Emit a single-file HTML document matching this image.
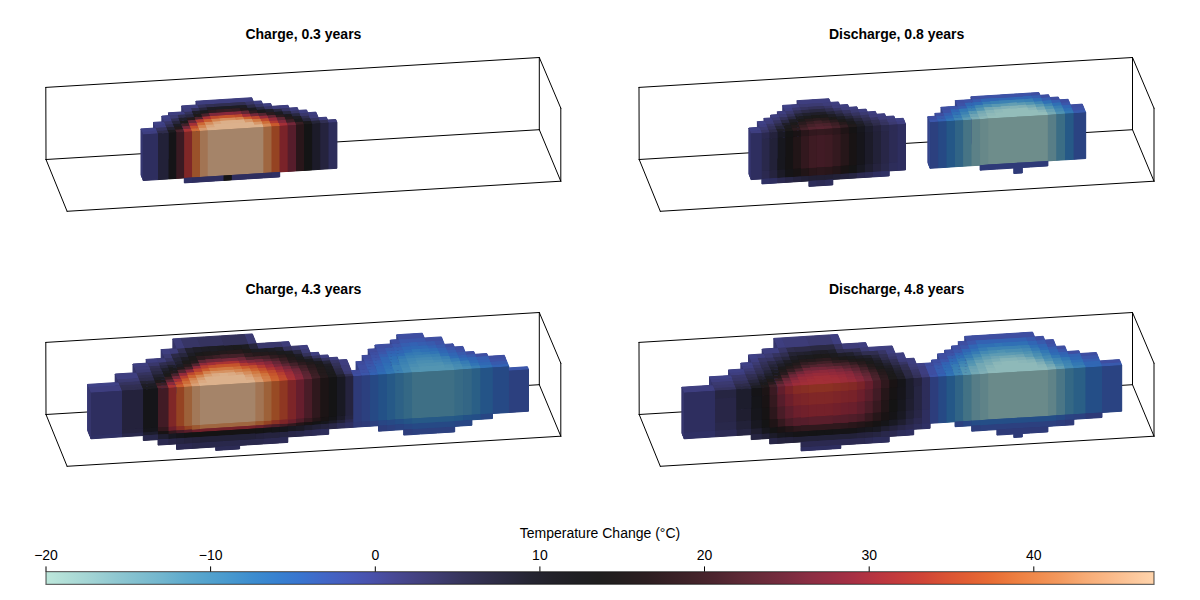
<!DOCTYPE html>
<html><head><meta charset="utf-8"><title>Temperature Change</title>
<style>html,body{margin:0;padding:0;background:#fff}svg{display:block}
.v path{fill:currentColor}.u{stroke:currentColor;stroke-width:1px;stroke-linejoin:round}
.t{font:14px "Liberation Sans",sans-serif;fill:#000}.h{font:bold 14px "Liberation Sans",sans-serif;fill:#000}</style></head>
<body><svg width="1200" height="600" viewBox="0 0 1200 600">
<rect width="1200" height="600" fill="#fff"/>
<path d="M45.8,87.4 L539.3,57.5M45.8,87.4 L46.0,159.5M46.0,159.5 L539.3,129.7M539.3,57.5 L539.3,129.7M46.0,159.5 L67.1,211.3M67.1,211.3 L560.8,181.2M539.3,129.7 L560.8,181.2M539.3,57.5 L560.8,108.2M560.8,108.2 L560.8,181.2" fill="none" stroke="#000" stroke-width="1" stroke-linecap="round"/>
<use href="#v0" xlink:href="#v0" class="u"/>
<g id="v0" class="v"><path color="#35356c" d="M143.3,134.5L142.2,131.7L142.2,177.7L143.3,180.5zM155.7,128.0L154.6,125.2L154.6,171.2L155.7,174.0zM164.2,121.7L163.0,118.9L163.0,164.9L164.2,167.7zM169.7,115.6L168.5,112.8L168.5,158.8L169.7,161.6zM183.0,109.0L181.8,105.9L181.8,151.9L183.0,155.0zM197.5,104.9L196.0,101.2L196.0,147.2L197.5,150.9z"/>
<path color="#363772" d="M142.2,131.7L141.0,128.9L141.0,174.9L142.2,177.7zM154.6,125.2L153.5,122.4L153.5,168.4L154.6,171.2zM163.0,118.9L161.9,116.1L161.9,162.1L163.0,164.9z"/>
<path color="#343366" d="M184.2,111.8L183.0,109.0L183.0,155.0L184.2,157.8z"/>
<path color="#3e3e7f" d="M143.3,134.5L158.0,133.6L156.9,130.8L142.2,131.7zM155.7,128.0L166.4,127.3L165.3,124.5L154.6,125.2zM164.2,121.7L171.9,121.2L170.8,118.4L163.0,118.9zM169.7,115.6L177.5,115.1L176.3,112.3L168.5,112.8zM177.5,115.1L185.3,114.6L184.2,111.8L176.3,112.3zM183.0,109.0L190.9,108.5L189.6,105.4L181.8,105.9zM190.9,108.5L198.8,108.0L197.5,104.9L189.6,105.4zM197.5,104.9L205.4,104.4L203.9,100.7L196.0,101.2zM205.4,104.4L213.3,103.9L211.8,100.2L203.9,100.7zM213.3,103.9L221.3,103.4L219.8,99.7L211.8,100.2zM221.3,103.4L229.2,102.9L227.7,99.2L219.8,99.7zM229.2,102.9L237.2,102.4L235.7,98.7L227.7,99.2zM237.2,102.4L245.2,101.9L243.7,98.2L235.7,98.7zM245.2,101.9L253.3,101.4L251.8,97.7L243.7,98.2zM254.5,104.5L262.6,104.0L261.3,100.9L253.3,101.4zM263.7,106.8L271.8,106.3L270.7,103.5L262.6,104.0zM281.0,108.6L289.2,108.1L288.0,105.3L279.9,105.8zM290.3,110.9L298.4,110.4L297.3,107.6L289.2,108.1zM299.6,113.2L307.7,112.7L306.6,109.9L298.4,110.4zM308.9,115.5L317.1,114.9L315.9,112.1L307.7,112.7zM319.3,120.5L327.6,120.0L326.4,117.2L318.2,117.7z"/>
<path color="#3f4186" d="M142.2,131.7L156.9,130.8L155.7,128.0L141.0,128.9zM154.6,125.2L165.3,124.5L164.2,121.7L153.5,122.4zM163.0,118.9L170.8,118.4L169.7,115.6L161.9,116.1z"/>
<path color="#2e2c4b" d="M158.0,133.6L168.7,132.9L167.6,130.1L156.9,130.8z"/>
<path color="#35335f" d="M156.9,130.8L167.6,130.1L166.4,127.3L155.7,128.0zM198.8,108.0L206.7,107.5L205.4,104.4L197.5,104.9zM311.2,121.1L319.3,120.5L318.2,117.7L310.0,118.3z"/>
<path color="#1c1b1f" d="M168.7,132.9L176.5,132.4L175.3,129.6L167.6,130.1zM284.4,117.0L292.6,116.5L291.4,113.7L283.3,114.2z"/>
<path color="#242333" d="M167.6,130.1L175.3,129.6L174.2,126.8L166.4,127.3z"/>
<path color="#302e50" d="M166.4,127.3L174.2,126.8L173.1,124.0L165.3,124.5zM178.6,117.9L186.4,117.4L185.3,114.6L177.5,115.1zM214.6,107.0L222.5,106.5L221.3,103.4L213.3,103.9zM222.5,106.5L230.5,106.0L229.2,102.9L221.3,103.4zM230.5,106.0L238.5,105.5L237.2,102.4L229.2,102.9zM238.5,105.5L246.5,105.0L245.2,101.9L237.2,102.4zM301.8,118.8L310.0,118.3L308.9,115.5L300.7,116.0z"/>
<path color="#373565" d="M165.3,124.5L173.1,124.0L171.9,121.2L164.2,121.7zM246.5,105.0L254.5,104.5L253.3,101.4L245.2,101.9zM255.7,107.3L263.7,106.8L262.6,104.0L254.5,104.5zM264.8,109.6L272.9,109.1L271.8,106.3L263.7,106.8zM282.2,111.4L290.3,110.9L289.2,108.1L281.0,108.6zM291.4,113.7L299.6,113.2L298.4,110.4L290.3,110.9z"/>
<path color="#4e232d" d="M176.5,132.4L184.3,131.9L183.2,129.1L175.3,129.6zM195.4,119.7L203.3,119.2L202.2,116.4L194.3,116.9z"/>
<path color="#231a1c" d="M175.3,129.6L183.2,129.1L182.0,126.3L174.2,126.8zM240.7,111.1L248.8,110.6L247.6,107.8L239.6,108.3z"/>
<path color="#1d1d24" d="M174.2,126.8L182.0,126.3L180.9,123.5L173.1,124.0zM215.7,109.8L223.7,109.3L222.5,106.5L214.6,107.0zM223.7,109.3L231.6,108.8L230.5,106.0L222.5,106.5zM231.6,108.8L239.6,108.3L238.5,105.5L230.5,106.0z"/>
<path color="#27263c" d="M173.1,124.0L180.9,123.5L179.7,120.7L171.9,121.2zM199.9,110.8L207.8,110.3L206.7,107.5L198.8,108.0zM303.0,121.6L311.2,121.1L310.0,118.3L301.8,118.8z"/>
<path color="#312f53" d="M171.9,121.2L179.7,120.7L178.6,117.9L170.8,118.4zM192.0,111.3L199.9,110.8L198.8,108.0L190.9,108.5zM206.7,107.5L214.6,107.0L213.3,103.9L205.4,104.4zM320.5,123.3L328.7,122.8L327.6,120.0L319.3,120.5z"/>
<path color="#3b3a71" d="M170.8,118.4L178.6,117.9L177.5,115.1L169.7,115.6z"/>
<path color="#ab3434" d="M184.3,131.9L192.1,131.4L191.0,128.6L183.2,129.1z"/>
<path color="#78283a" d="M183.2,129.1L191.0,128.6L189.8,125.8L182.0,126.3z"/>
<path color="#432129" d="M182.0,126.3L189.8,125.8L188.7,123.0L180.9,123.5z"/>
<path color="#1c1a1a" d="M180.9,123.5L188.7,123.0L187.6,120.2L179.7,120.7z"/>
<path color="#20202c" d="M179.7,120.7L187.6,120.2L186.4,117.4L178.6,117.9z"/>
<path color="#ce6d38" d="M192.1,131.4L200.0,130.9L198.8,128.1L191.0,128.6zM262.5,124.1L270.5,123.6L269.4,120.8L261.3,121.3z"/>
<path color="#c24e2d" d="M191.0,128.6L198.8,128.1L197.7,125.3L189.8,125.8z"/>
<path color="#a32f37" d="M189.8,125.8L197.7,125.3L196.6,122.5L188.7,123.0zM279.7,125.9L287.8,125.4L286.7,122.6L278.6,123.1z"/>
<path color="#662636" d="M188.7,123.0L196.6,122.5L195.4,119.7L187.6,120.2z"/>
<path color="#261a1c" d="M187.6,120.2L195.4,119.7L194.3,116.9L186.4,117.4zM285.6,119.8L293.7,119.3L292.6,116.5L284.4,117.0z"/>
<path color="#292841" d="M186.4,117.4L194.3,116.9L193.2,114.1L185.3,114.6zM256.8,110.1L264.8,109.6L263.7,106.8L255.7,107.3zM274.1,111.9L282.2,111.4L281.0,108.6L272.9,109.1zM283.3,114.2L291.4,113.7L290.3,110.9L282.2,111.4zM292.6,116.5L300.7,116.0L299.6,113.2L291.4,113.7z"/>
<path color="#333159" d="M185.3,114.6L193.2,114.1L192.0,111.3L184.2,111.8z"/>
<path color="#3d3c78" d="M184.2,111.8L192.0,111.3L190.9,108.5L183.0,109.0zM272.9,109.1L281.0,108.6L279.9,105.8L271.8,106.3zM310.0,118.3L318.2,117.7L317.1,114.9L308.9,115.5zM328.7,122.8L336.9,122.3L335.8,119.5L327.6,120.0z"/>
<path color="#d89c6f" d="M200.0,130.9L207.8,130.4L206.7,127.6L198.8,128.1z"/>
<path color="#d38450" d="M198.8,128.1L206.7,127.6L205.6,124.8L197.7,125.3z"/>
<path color="#cd6834" d="M197.7,125.3L205.6,124.8L204.4,122.0L196.6,122.5z"/>
<path color="#b33a31" d="M196.6,122.5L204.4,122.0L203.3,119.2L195.4,119.7zM270.5,123.6L278.6,123.1L277.5,120.3L269.4,120.8z"/>
<path color="#1e1a1a" d="M194.3,116.9L202.2,116.4L201.0,113.6L193.2,114.1z"/>
<path color="#1f1e28" d="M193.2,114.1L201.0,113.6L199.9,110.8L192.0,111.3zM266.0,112.4L274.1,111.9L272.9,109.1L264.8,109.6z"/>
<path color="#dcb18c" d="M207.8,130.4L215.7,129.9L214.6,127.1L206.7,127.6zM215.7,129.9L223.7,129.4L221.4,123.8L213.5,124.3zM223.7,129.4L231.6,128.9L229.3,123.3L221.4,123.8zM231.6,128.9L239.6,128.4L237.3,122.8L229.3,123.3zM239.6,128.4L247.5,127.9L245.3,122.3L237.3,122.8zM247.5,127.9L255.6,127.4L253.3,121.8L245.3,122.3zM255.6,127.4L263.6,126.9L262.5,124.1L254.4,124.6z"/>
<path color="#daa57c" d="M206.7,127.6L214.6,127.1L213.5,124.3L205.6,124.8zM213.5,124.3L221.4,123.8L220.3,121.0L212.3,121.5z"/>
<path color="#d58d5c" d="M205.6,124.8L213.5,124.3L212.3,121.5L204.4,122.0zM220.3,121.0L228.2,120.5L227.1,117.7L219.1,118.2zM228.2,120.5L236.2,120.0L235.0,117.2L227.1,117.7z"/>
<path color="#ca5e2e" d="M204.4,122.0L212.3,121.5L211.2,118.7L203.3,119.2zM244.1,119.5L252.2,119.0L251.0,116.2L243.0,116.7z"/>
<path color="#a73135" d="M203.3,119.2L211.2,118.7L210.1,115.9L202.2,116.4z"/>
<path color="#49222b" d="M202.2,116.4L210.1,115.9L208.9,113.1L201.0,113.6z"/>
<path color="#1b1b1d" d="M201.0,113.6L208.9,113.1L207.8,110.3L199.9,110.8z"/>
<path color="#d3814d" d="M212.3,121.5L220.3,121.0L219.1,118.2L211.2,118.7zM236.2,120.0L244.1,119.5L243.0,116.7L235.0,117.2z"/>
<path color="#bf4a2d" d="M211.2,118.7L219.1,118.2L218.0,115.4L210.1,115.9zM235.0,117.2L243.0,116.7L241.9,113.9L233.9,114.4zM261.3,121.3L269.4,120.8L268.3,118.0L260.2,118.5z"/>
<path color="#7d283b" d="M210.1,115.9L218.0,115.4L216.8,112.6L208.9,113.1z"/>
<path color="#2c1b1f" d="M208.9,113.1L216.8,112.6L215.7,109.8L207.8,110.3zM276.3,117.5L284.4,117.0L283.3,114.2L275.2,114.7z"/>
<path color="#1e1d25" d="M207.8,110.3L215.7,109.8L214.6,107.0L206.7,107.5zM239.6,108.3L247.6,107.8L246.5,105.0L238.5,105.5zM293.7,119.3L301.8,118.8L300.7,116.0L292.6,116.5z"/>
<path color="#dcaf89" d="M221.4,123.8L229.3,123.3L228.2,120.5L220.3,121.0zM229.3,123.3L237.3,122.8L236.2,120.0L228.2,120.5zM237.3,122.8L245.3,122.3L244.1,119.5L236.2,120.0z"/>
<path color="#c5532c" d="M219.1,118.2L227.1,117.7L225.9,114.9L218.0,115.4zM227.1,117.7L235.0,117.2L233.9,114.4L225.9,114.9z"/>
<path color="#83283b" d="M218.0,115.4L225.9,114.9L224.8,112.1L216.8,112.6zM233.9,114.4L241.9,113.9L240.7,111.1L232.8,111.6zM278.6,123.1L286.7,122.6L285.6,119.8L277.5,120.3z"/>
<path color="#331d22" d="M216.8,112.6L224.8,112.1L223.7,109.3L215.7,109.8zM232.8,111.6L240.7,111.1L239.6,108.3L231.6,108.8z"/>
<path color="#88283c" d="M225.9,114.9L233.9,114.4L232.8,111.6L224.8,112.1z"/>
<path color="#371e23" d="M224.8,112.1L232.8,111.6L231.6,108.8L223.7,109.3zM296.0,124.9L304.1,124.4L303.0,121.6L294.8,122.1z"/>
<path color="#d79769" d="M245.3,122.3L253.3,121.8L252.2,119.0L244.1,119.5zM254.4,124.6L262.5,124.1L261.3,121.3L253.3,121.8z"/>
<path color="#a12e38" d="M243.0,116.7L251.0,116.2L249.9,113.4L241.9,113.9z"/>
<path color="#612634" d="M241.9,113.9L249.9,113.4L248.8,110.6L240.7,111.1zM268.3,118.0L276.3,117.5L275.2,114.7L267.1,115.2zM277.5,120.3L285.6,119.8L284.4,117.0L276.3,117.5z"/>
<path color="#d17841" d="M253.3,121.8L261.3,121.3L260.2,118.5L252.2,119.0z"/>
<path color="#bd462e" d="M252.2,119.0L260.2,118.5L259.1,115.7L251.0,116.2z"/>
<path color="#732739" d="M251.0,116.2L259.1,115.7L257.9,112.9L249.9,113.4zM287.8,125.4L296.0,124.9L294.8,122.1L286.7,122.6z"/>
<path color="#2f1c20" d="M249.9,113.4L257.9,112.9L256.8,110.1L248.8,110.6z"/>
<path color="#1c1c21" d="M248.8,110.6L256.8,110.1L255.7,107.3L247.6,107.8zM275.2,114.7L283.3,114.2L282.2,111.4L274.1,111.9z"/>
<path color="#2c2a46" d="M247.6,107.8L255.7,107.3L254.5,104.5L246.5,105.0z"/>
<path color="#d48956" d="M263.6,126.9L271.7,126.4L270.5,123.6L262.5,124.1z"/>
<path color="#972b3a" d="M260.2,118.5L268.3,118.0L267.1,115.2L259.1,115.7zM269.4,120.8L277.5,120.3L276.3,117.5L268.3,118.0z"/>
<path color="#53242f" d="M259.1,115.7L267.1,115.2L266.0,112.4L257.9,112.9z"/>
<path color="#1b1a1c" d="M257.9,112.9L266.0,112.4L264.8,109.6L256.8,110.1zM294.8,122.1L303.0,121.6L301.8,118.8L293.7,119.3zM304.1,124.4L312.3,123.9L311.2,121.1L303.0,121.6z"/>
<path color="#c85a2d" d="M271.7,126.4L279.7,125.9L278.6,123.1L270.5,123.6z"/>
<path color="#291b1e" d="M267.1,115.2L275.2,114.7L274.1,111.9L266.0,112.4z"/>
<path color="#3f2027" d="M286.7,122.6L294.8,122.1L293.7,119.3L285.6,119.8z"/>
<path color="#39376b" d="M300.7,116.0L308.9,115.5L307.7,112.7L299.6,113.2z"/>
<path color="#252538" d="M312.3,123.9L320.5,123.3L319.3,120.5L311.2,121.1z"/>
<path color="#2e2e5f" d="M143.3,134.5L158.0,133.6L158.0,179.6L143.3,180.5z"/>
<path color="#222138" d="M158.0,133.6L168.7,132.9L168.7,178.9L158.0,179.6z"/>
<path color="#151417" d="M168.7,132.9L176.5,132.4L176.5,178.4L168.7,178.9z"/>
<path color="#3a1a22" d="M176.5,132.4L184.3,131.9L184.3,177.9L176.5,178.4z"/>
<path color="#802727" d="M184.3,131.9L192.1,131.4L192.1,177.4L184.3,177.9z"/>
<path color="#9a522a" d="M192.1,131.4L200.0,130.9L200.0,176.9L192.1,177.4z"/>
<path color="#a27453" d="M200.0,130.9L207.8,130.4L207.8,176.4L200.0,176.9z"/>
<path color="#a58469" d="M207.8,130.4L215.7,129.9L215.7,175.9L207.8,176.4zM215.7,129.9L223.7,129.4L223.7,175.4L215.7,175.9zM223.7,129.4L231.6,128.9L231.6,174.9L223.7,175.4zM231.6,128.9L239.6,128.4L239.6,174.4L231.6,174.9zM239.6,128.4L247.5,127.9L247.5,173.9L239.6,174.4zM247.5,127.9L255.6,127.4L255.6,173.4L247.5,173.9zM255.6,127.4L263.6,126.9L263.6,172.9L255.6,173.4z"/>
<path color="#9f6640" d="M263.6,126.9L271.7,126.4L271.7,172.4L263.6,172.9z"/>
<path color="#954322" d="M271.7,126.4L279.7,125.9L279.7,171.9L271.7,172.4z"/>
<path color="#7a2329" d="M279.7,125.9L287.8,125.4L287.8,171.4L279.7,171.9z"/>
<path color="#561d2b" d="M287.8,125.4L296.0,124.9L296.0,170.9L287.8,171.4z"/>
<path color="#29161a" d="M296.0,124.9L304.1,124.4L304.1,170.4L296.0,170.9z"/>
<path color="#141415" d="M304.1,124.4L312.3,123.9L312.3,169.9L304.1,170.4z"/>
<path color="#1c1b29" d="M312.3,123.9L320.5,123.3L320.5,169.3L312.3,169.9z"/>
<path color="#25233e" d="M320.5,123.3L328.7,122.8L328.7,168.8L320.5,169.3z"/>
<path color="#2d2d5a" d="M328.7,122.8L336.9,122.3L336.9,168.3L328.7,168.8z"/>
<path color="#2f3064" d="M184.3,177.9L192.1,177.4L192.1,182.4L184.3,182.9zM271.7,172.4L279.7,171.9L279.7,176.9L271.7,177.4z"/>
<path color="#2e2e5f" d="M192.1,177.4L200.0,176.9L200.0,181.9L192.1,182.4zM200.0,176.9L207.8,176.4L207.8,181.4L200.0,181.9zM207.8,176.4L215.7,175.9L215.7,180.9L207.8,181.4zM215.7,175.9L223.7,175.4L223.7,180.4L215.7,180.9zM231.6,174.9L239.6,174.4L239.6,179.4L231.6,179.9zM239.6,174.4L247.5,173.9L247.5,178.9L239.6,179.4zM247.5,173.9L255.6,173.4L255.6,178.4L247.5,178.9zM255.6,173.4L263.6,172.9L263.6,177.9L255.6,178.4zM263.6,172.9L271.7,172.4L271.7,177.4L263.6,177.9z"/>
<path color="#141415" d="M223.7,175.4L231.6,174.9L231.6,179.9L223.7,180.4z"/></g>
<text x="303.4" y="38.7" text-anchor="middle" class="h">Charge, 0.3 years</text>
<path d="M639.0,87.4 L1132.5,57.5M639.0,87.4 L639.2,159.5M639.2,159.5 L1132.5,129.7M1132.5,57.5 L1132.5,129.7M639.2,159.5 L660.3,211.3M660.3,211.3 L1154.0,181.2M1132.5,129.7 L1154.0,181.2M1132.5,57.5 L1154.0,108.2M1154.0,108.2 L1154.0,181.2" fill="none" stroke="#000" stroke-width="1" stroke-linecap="round"/>
<use href="#v1" xlink:href="#v1" class="u"/>
<g id="v1" class="v"><path color="#35356c" d="M751.2,133.6L750.1,130.8L750.1,176.8L751.2,179.6zM759.6,127.3L758.5,124.5L758.5,170.5L759.6,173.3zM765.1,121.2L764.0,118.4L764.0,164.4L765.1,167.2zM771.8,117.9L770.7,115.1L770.7,161.1L771.8,163.9zM778.5,114.6L777.4,111.8L777.4,157.8L778.5,160.6zM785.2,111.3L784.1,108.5L784.1,154.5L785.2,157.3zM798.6,104.4L797.1,100.7L797.1,146.7L798.6,150.4z"/>
<path color="#363772" d="M750.1,130.8L748.9,128.0L748.9,174.0L750.1,176.8zM758.5,124.5L757.4,121.7L757.4,167.7L758.5,170.5zM784.1,108.5L782.8,105.4L782.8,151.4L784.1,154.5z"/>
<path color="#324990" d="M930.1,122.3L929.0,119.5L929.0,165.5L930.1,168.3z"/>
<path color="#354389" d="M929.0,119.5L927.9,116.7L927.9,162.7L929.0,165.5zM936.1,116.2L935.0,113.4L935.0,159.4L936.1,162.2zM942.2,110.1L941.0,107.3L941.0,153.3L942.2,156.1zM956.5,103.4L955.4,100.6L955.4,146.6L956.5,149.4zM972.1,99.6L971.0,96.8L971.0,142.8L972.1,145.6z"/>
<path color="#34468d" d="M943.3,112.9L942.2,110.1L942.2,156.1L943.3,158.9zM957.7,106.2L956.5,103.4L956.5,149.4L957.7,152.2z"/>
<path color="#3e3e7f" d="M751.2,133.6L761.9,132.9L760.8,130.1L750.1,130.8zM759.6,127.3L767.4,126.8L766.3,124.0L758.5,124.5zM765.1,121.2L773.0,120.7L771.8,117.9L764.0,118.4zM771.8,117.9L779.6,117.4L778.5,114.6L770.7,115.1zM778.5,114.6L786.4,114.1L785.2,111.3L777.4,111.8zM785.2,111.3L793.1,110.8L792.0,108.0L784.1,108.5zM792.0,108.0L799.9,107.5L798.6,104.4L790.7,104.9zM798.6,104.4L806.5,103.9L805.0,100.2L797.1,100.7zM806.5,103.9L814.5,103.4L813.0,99.7L805.0,100.2zM814.5,103.4L822.4,102.9L820.9,99.2L813.0,99.7zM822.4,102.9L830.4,102.4L828.9,98.7L820.9,99.2zM831.7,105.5L839.7,105.0L838.4,101.9L830.4,102.4zM840.8,107.8L848.9,107.3L847.7,104.5L839.7,105.0zM850.0,110.1L858.0,109.6L856.9,106.8L848.9,107.3zM859.2,112.4L867.3,111.9L866.1,109.1L858.0,109.6zM868.4,114.7L876.5,114.2L875.4,111.4L867.3,111.9zM877.6,117.0L885.8,116.5L884.6,113.7L876.5,114.2zM886.9,119.3L895.0,118.8L893.9,116.0L885.8,116.5zM897.3,124.4L905.5,123.9L904.4,121.1L896.2,121.6z"/>
<path color="#3f4186" d="M750.1,130.8L760.8,130.1L759.6,127.3L748.9,128.0zM758.5,124.5L766.3,124.0L765.1,121.2L757.4,121.7zM784.1,108.5L792.0,108.0L790.7,104.9L782.8,105.4zM896.2,121.6L904.4,121.1L903.2,118.3L895.0,118.8z"/>
<path color="#373565" d="M761.9,132.9L769.7,132.4L768.5,129.6L760.8,130.1zM767.4,126.8L775.2,126.3L774.1,123.5L766.3,124.0zM824.8,108.8L832.8,108.3L831.7,105.5L823.7,106.0zM833.9,111.1L842.0,110.6L840.8,107.8L832.8,108.3zM870.7,120.3L878.8,119.8L877.6,117.0L869.5,117.5zM879.9,122.6L888.0,122.1L886.9,119.3L878.8,119.8z"/>
<path color="#3b3a71" d="M760.8,130.1L768.5,129.6L767.4,126.8L759.6,127.3zM773.0,120.7L780.8,120.2L779.6,117.4L771.8,117.9zM779.6,117.4L787.5,116.9L786.4,114.1L778.5,114.6zM799.9,107.5L807.8,107.0L806.5,103.9L798.6,104.4zM807.8,107.0L815.7,106.5L814.5,103.4L806.5,103.9zM815.7,106.5L823.7,106.0L822.4,102.9L814.5,103.4zM851.1,112.9L859.2,112.4L858.0,109.6L850.0,110.1zM860.3,115.2L868.4,114.7L867.3,111.9L859.2,112.4zM889.2,124.9L897.3,124.4L896.2,121.6L888.0,122.1z"/>
<path color="#2e2c4b" d="M769.7,132.4L777.5,131.9L776.4,129.1L768.5,129.6zM775.2,126.3L783.0,125.8L781.9,123.0L774.1,123.5zM835.1,113.9L843.1,113.4L842.0,110.6L833.9,111.1zM844.2,116.2L852.3,115.7L851.1,112.9L843.1,113.4zM853.4,118.5L861.5,118.0L860.3,115.2L852.3,115.7zM872.9,125.9L881.0,125.4L879.9,122.6L871.8,123.1z"/>
<path color="#333159" d="M768.5,129.6L776.4,129.1L775.2,126.3L767.4,126.8zM780.8,120.2L788.6,119.7L787.5,116.9L779.6,117.4zM787.5,116.9L795.4,116.4L794.2,113.6L786.4,114.1zM808.9,109.8L816.9,109.3L815.7,106.5L807.8,107.0zM816.9,109.3L824.8,108.8L823.7,106.0L815.7,106.5z"/>
<path color="#3d3c78" d="M766.3,124.0L774.1,123.5L773.0,120.7L765.1,121.2zM823.7,106.0L831.7,105.5L830.4,102.4L822.4,102.9zM832.8,108.3L840.8,107.8L839.7,105.0L831.7,105.5zM842.0,110.6L850.0,110.1L848.9,107.3L840.8,107.8zM869.5,117.5L877.6,117.0L876.5,114.2L868.4,114.7zM878.8,119.8L886.9,119.3L885.8,116.5L877.6,117.0zM888.0,122.1L896.2,121.6L895.0,118.8L886.9,119.3z"/>
<path color="#1f1e28" d="M777.5,131.9L785.3,131.4L784.2,128.6L776.4,129.1zM783.0,125.8L790.9,125.3L789.8,122.5L781.9,123.0zM811.2,115.4L819.1,114.9L818.0,112.1L810.0,112.6zM819.1,114.9L827.1,114.4L826.0,111.6L818.0,112.1z"/>
<path color="#252538" d="M776.4,129.1L784.2,128.6L783.0,125.8L775.2,126.3zM795.4,116.4L803.3,115.9L802.1,113.1L794.2,113.6zM827.1,114.4L835.1,113.9L833.9,111.1L826.0,111.6zM836.2,116.7L844.2,116.2L843.1,113.4L835.1,113.9zM845.4,119.0L853.4,118.5L852.3,115.7L844.2,116.2zM864.9,126.4L872.9,125.9L871.8,123.1L863.7,123.6z"/>
<path color="#35335f" d="M774.1,123.5L781.9,123.0L780.8,120.2L773.0,120.7zM801.0,110.3L808.9,109.8L807.8,107.0L799.9,107.5zM843.1,113.4L851.1,112.9L850.0,110.1L842.0,110.6zM852.3,115.7L860.3,115.2L859.2,112.4L851.1,112.9zM861.5,118.0L869.5,117.5L868.4,114.7L860.3,115.2zM881.0,125.4L889.2,124.9L888.0,122.1L879.9,122.6z"/>
<path color="#1c1a1a" d="M785.3,131.4L793.2,130.9L792.0,128.1L784.2,128.6zM790.9,125.3L798.8,124.8L797.6,122.0L789.8,122.5zM797.6,122.0L805.5,121.5L804.4,118.7L796.5,119.2zM829.4,120.0L837.3,119.5L836.2,116.7L828.2,117.2zM838.5,122.3L846.5,121.8L845.4,119.0L837.3,119.5z"/>
<path color="#1c1b1f" d="M784.2,128.6L792.0,128.1L790.9,125.3L783.0,125.8z"/>
<path color="#292841" d="M781.9,123.0L789.8,122.5L788.6,119.7L780.8,120.2zM788.6,119.7L796.5,119.2L795.4,116.4L787.5,116.9zM810.0,112.6L818.0,112.1L816.9,109.3L808.9,109.8zM818.0,112.1L826.0,111.6L824.8,108.8L816.9,109.3zM863.7,123.6L871.8,123.1L870.7,120.3L862.6,120.8z"/>
<path color="#2c1b1f" d="M793.2,130.9L801.0,130.4L799.9,127.6L792.0,128.1z"/>
<path color="#231a1c" d="M792.0,128.1L799.9,127.6L798.8,124.8L790.9,125.3z"/>
<path color="#1e1d25" d="M789.8,122.5L797.6,122.0L796.5,119.2L788.6,119.7zM828.2,117.2L836.2,116.7L835.1,113.9L827.1,114.4zM846.5,121.8L854.5,121.3L853.4,118.5L845.4,119.0z"/>
<path color="#39376b" d="M786.4,114.1L794.2,113.6L793.1,110.8L785.2,111.3zM793.1,110.8L801.0,110.3L799.9,107.5L792.0,108.0z"/>
<path color="#432129" d="M801.0,130.4L808.9,129.9L807.8,127.1L799.9,127.6z"/>
<path color="#371e23" d="M799.9,127.6L807.8,127.1L806.7,124.3L798.8,124.8zM806.7,124.3L814.6,123.8L813.5,121.0L805.5,121.5zM822.5,123.3L830.5,122.8L829.4,120.0L821.4,120.5z"/>
<path color="#291b1e" d="M798.8,124.8L806.7,124.3L805.5,121.5L797.6,122.0zM813.5,121.0L821.4,120.5L820.3,117.7L812.3,118.2zM830.5,122.8L838.5,122.3L837.3,119.5L829.4,120.0z"/>
<path color="#1d1d24" d="M796.5,119.2L804.4,118.7L803.3,115.9L795.4,116.4zM837.3,119.5L845.4,119.0L844.2,116.2L836.2,116.7zM856.8,126.9L864.9,126.4L863.7,123.6L855.7,124.1z"/>
<path color="#312f53" d="M794.2,113.6L802.1,113.1L801.0,110.3L793.1,110.8zM871.8,123.1L879.9,122.6L878.8,119.8L870.7,120.3z"/>
<path color="#53242f" d="M808.9,129.9L816.9,129.4L815.7,126.6L807.8,127.1zM824.8,128.9L832.8,128.4L831.6,125.6L823.7,126.1z"/>
<path color="#452129" d="M807.8,127.1L815.7,126.6L814.6,123.8L806.7,124.3zM832.8,128.4L840.8,127.9L839.6,125.1L831.6,125.6z"/>
<path color="#261a1c" d="M805.5,121.5L813.5,121.0L812.3,118.2L804.4,118.7zM821.4,120.5L829.4,120.0L828.2,117.2L820.3,117.7zM839.6,125.1L847.6,124.6L846.5,121.8L838.5,122.3z"/>
<path color="#1b1b1d" d="M804.4,118.7L812.3,118.2L811.2,115.4L803.3,115.9z"/>
<path color="#20202c" d="M803.3,115.9L811.2,115.4L810.0,112.6L802.1,113.1zM855.7,124.1L863.7,123.6L862.6,120.8L854.5,121.3z"/>
<path color="#2c2a46" d="M802.1,113.1L810.0,112.6L808.9,109.8L801.0,110.3z"/>
<path color="#572431" d="M816.9,129.4L824.8,128.9L823.7,126.1L815.7,126.6z"/>
<path color="#4e232d" d="M815.7,126.6L823.7,126.1L822.5,123.3L814.6,123.8z"/>
<path color="#3f2027" d="M814.6,123.8L822.5,123.3L821.4,120.5L813.5,121.0z"/>
<path color="#1b1a1a" d="M812.3,118.2L820.3,117.7L819.1,114.9L811.2,115.4z"/>
<path color="#49222b" d="M823.7,126.1L831.6,125.6L830.5,122.8L822.5,123.3z"/>
<path color="#1b1a1c" d="M820.3,117.7L828.2,117.2L827.1,114.4L819.1,114.9zM847.6,124.6L855.7,124.1L854.5,121.3L846.5,121.8z"/>
<path color="#3b1f25" d="M831.6,125.6L839.6,125.1L838.5,122.3L830.5,122.8z"/>
<path color="#302e50" d="M826.0,111.6L833.9,111.1L832.8,108.3L824.8,108.8zM862.6,120.8L870.7,120.3L869.5,117.5L861.5,118.0z"/>
<path color="#331d22" d="M840.8,127.9L848.8,127.4L847.6,124.6L839.6,125.1z"/>
<path color="#201a1b" d="M848.8,127.4L856.8,126.9L855.7,124.1L847.6,124.6z"/>
<path color="#27263c" d="M854.5,121.3L862.6,120.8L861.5,118.0L853.4,118.5z"/>
<path color="#3b56aa" d="M930.1,122.3L938.4,121.8L937.3,119.0L929.0,119.5zM950.5,109.5L958.8,109.0L957.7,106.2L949.3,106.7zM1061.7,105.4L1070.4,104.9L1069.2,102.1L1060.6,102.6z"/>
<path color="#3e4ea1" d="M929.0,119.5L937.3,119.0L936.1,116.2L927.9,116.7zM936.1,116.2L944.4,115.7L943.3,112.9L935.0,113.4zM942.2,110.1L950.5,109.5L949.3,106.7L941.0,107.3zM956.5,103.4L964.9,102.9L963.8,100.1L955.4,100.6zM972.1,99.6L980.5,99.0L979.4,96.2L971.0,96.8zM1031.4,95.8L1040.0,95.3L1038.9,92.5L1030.3,93.0zM1041.1,98.1L1049.7,97.5L1048.6,94.7L1040.0,95.3zM1050.9,100.3L1059.5,99.8L1058.3,97.0L1049.7,97.5zM1060.6,102.6L1069.2,102.1L1068.1,99.3L1059.5,99.8zM1071.5,107.7L1083.4,106.9L1082.3,104.1L1070.4,104.9z"/>
<path color="#3362b3" d="M938.4,121.8L946.7,121.3L945.6,118.5L937.3,119.0z"/>
<path color="#385aad" d="M937.3,119.0L945.6,118.5L944.4,115.7L936.1,116.2zM973.3,102.4L981.7,101.8L980.5,99.0L972.1,99.6zM1073.8,113.3L1085.7,112.5L1084.6,109.7L1072.6,110.5z"/>
<path color="#3174b5" d="M946.7,121.3L955.0,120.7L953.9,117.9L945.6,118.5zM967.2,108.5L975.5,108.0L974.4,105.2L966.0,105.7z"/>
<path color="#3068b4" d="M945.6,118.5L953.9,117.9L952.7,115.1L944.4,115.7zM998.5,100.8L1007.0,100.2L1005.9,97.4L997.4,98.0zM1007.0,100.2L1015.5,99.7L1014.4,96.9L1005.9,97.4zM1015.5,99.7L1024.0,99.2L1022.9,96.4L1014.4,96.9z"/>
<path color="#365eb0" d="M944.4,115.7L952.7,115.1L951.6,112.3L943.3,112.9zM958.8,109.0L967.2,108.5L966.0,105.7L957.7,106.2zM1032.6,98.6L1041.1,98.1L1040.0,95.3L1031.4,95.8zM1042.3,100.9L1050.9,100.3L1049.7,97.5L1041.1,98.1zM1052.0,103.1L1060.6,102.6L1059.5,99.8L1050.9,100.3z"/>
<path color="#3d52a6" d="M943.3,112.9L951.6,112.3L950.5,109.5L942.2,110.1zM957.7,106.2L966.0,105.7L964.9,102.9L956.5,103.4zM964.9,102.9L973.3,102.4L972.1,99.6L963.8,100.1zM980.5,99.0L989.0,98.5L987.8,95.7L979.4,96.2zM989.0,98.5L997.4,98.0L996.3,95.2L987.8,95.7zM997.4,98.0L1005.9,97.4L1004.7,94.6L996.3,95.2zM1005.9,97.4L1014.4,96.9L1013.2,94.1L1004.7,94.6zM1014.4,96.9L1022.9,96.4L1021.8,93.6L1013.2,94.1zM1022.9,96.4L1031.4,95.8L1030.3,93.0L1021.8,93.6zM1072.6,110.5L1084.6,109.7L1083.4,106.9L1071.5,107.7z"/>
<path color="#4086b3" d="M955.0,120.7L963.3,120.2L962.2,117.4L953.9,117.9zM975.5,108.0L983.9,107.4L982.8,104.6L974.4,105.2zM1034.8,104.2L1043.4,103.7L1042.3,100.9L1033.7,101.4zM1044.5,106.5L1053.1,105.9L1052.0,103.1L1043.4,103.7z"/>
<path color="#367bb4" d="M953.9,117.9L962.2,117.4L961.1,114.6L952.7,115.1zM982.8,104.6L991.2,104.1L990.1,101.3L981.7,101.8z"/>
<path color="#3070b5" d="M952.7,115.1L961.1,114.6L959.9,111.8L951.6,112.3zM1033.7,101.4L1042.3,100.9L1041.1,98.1L1032.6,98.6zM1043.4,103.7L1052.0,103.1L1050.9,100.3L1042.3,100.9zM1053.1,105.9L1061.7,105.4L1060.6,102.6L1052.0,103.1zM1064.0,111.0L1072.6,110.5L1071.5,107.7L1062.9,108.2z"/>
<path color="#3166b4" d="M951.6,112.3L959.9,111.8L958.8,109.0L950.5,109.5zM966.0,105.7L974.4,105.2L973.3,102.4L964.9,102.9zM981.7,101.8L990.1,101.3L989.0,98.5L980.5,99.0zM990.1,101.3L998.5,100.8L997.4,98.0L989.0,98.5zM1024.0,99.2L1032.6,98.6L1031.4,95.8L1022.9,96.4zM1062.9,108.2L1071.5,107.7L1070.4,104.9L1061.7,105.4z"/>
<path color="#5d9bb3" d="M963.3,120.2L971.7,119.7L970.6,116.9L962.2,117.4zM1000.8,106.4L1009.3,105.8L1008.2,103.0L999.7,103.6zM1017.8,105.3L1026.3,104.8L1025.2,102.0L1016.6,102.5z"/>
<path color="#4a8eb2" d="M962.2,117.4L970.6,116.9L969.4,114.1L961.1,114.6zM983.9,107.4L992.4,106.9L991.2,104.1L982.8,104.6z"/>
<path color="#3c82b3" d="M961.1,114.6L969.4,114.1L968.3,111.3L959.9,111.8zM968.3,111.3L976.7,110.8L975.5,108.0L967.2,108.5zM999.7,103.6L1008.2,103.0L1007.0,100.2L998.5,100.8zM1008.2,103.0L1016.6,102.5L1015.5,99.7L1007.0,100.2zM1016.6,102.5L1025.2,102.0L1024.0,99.2L1015.5,99.7z"/>
<path color="#3378b4" d="M959.9,111.8L968.3,111.3L967.2,108.5L958.8,109.0zM1065.1,113.8L1073.8,113.3L1072.6,110.5L1064.0,111.0z"/>
<path color="#7aacb5" d="M971.7,119.7L980.1,119.2L978.9,116.4L970.6,116.9zM993.5,109.7L1001.9,109.2L1000.8,106.4L992.4,106.9z"/>
<path color="#6ea4b4" d="M970.6,116.9L978.9,116.4L977.8,113.6L969.4,114.1z"/>
<path color="#5898b2" d="M969.4,114.1L977.8,113.6L976.7,110.8L968.3,111.3zM992.4,106.9L1000.8,106.4L999.7,103.6L991.2,104.1zM1036.0,107.0L1044.5,106.5L1043.4,103.7L1034.8,104.2z"/>
<path color="#8ab6b8" d="M980.1,119.2L988.5,118.6L987.3,115.8L978.9,116.4zM1028.6,110.4L1037.1,109.8L1036.0,107.0L1027.4,107.6zM1038.2,112.6L1046.8,112.1L1045.7,109.3L1037.1,109.8z"/>
<path color="#80afb6" d="M978.9,116.4L987.3,115.8L986.2,113.0L977.8,113.6zM1001.9,109.2L1010.4,108.6L1009.3,105.8L1000.8,106.4zM1018.9,108.1L1027.4,107.6L1026.3,104.8L1017.8,105.3z"/>
<path color="#75a9b4" d="M977.8,113.6L986.2,113.0L985.1,110.2L976.7,110.8zM1027.4,107.6L1036.0,107.0L1034.8,104.2L1026.3,104.8zM1037.1,109.8L1045.7,109.3L1044.5,106.5L1036.0,107.0zM1047.9,114.9L1056.5,114.3L1055.4,111.5L1046.8,112.1z"/>
<path color="#5395b2" d="M976.7,110.8L985.1,110.2L983.9,107.4L975.5,108.0zM1026.3,104.8L1034.8,104.2L1033.7,101.4L1025.2,102.0zM1045.7,109.3L1054.3,108.7L1053.1,105.9L1044.5,106.5z"/>
<path color="#2f6cb5" d="M974.4,105.2L982.8,104.6L981.7,101.8L973.3,102.4z"/>
<path color="#93bdba" d="M988.5,118.6L996.9,118.1L995.8,115.3L987.3,115.8zM996.9,118.1L1005.4,117.6L1003.1,112.0L994.6,112.5zM1005.4,117.6L1013.8,117.0L1010.4,108.6L1001.9,109.2zM1013.8,117.0L1022.3,116.5L1018.9,108.1L1010.4,108.6zM1022.3,116.5L1030.8,116.0L1027.4,107.6L1018.9,108.1zM1030.8,116.0L1039.4,115.4L1037.1,109.8L1028.6,110.4zM1039.4,115.4L1047.9,114.9L1046.8,112.1L1038.2,112.6z"/>
<path color="#8eb9b9" d="M987.3,115.8L995.8,115.3L994.6,112.5L986.2,113.0zM994.6,112.5L1003.1,112.0L1001.9,109.2L993.5,109.7z"/>
<path color="#85b3b7" d="M986.2,113.0L994.6,112.5L993.5,109.7L985.1,110.2zM1010.4,108.6L1018.9,108.1L1017.8,105.3L1009.3,105.8z"/>
<path color="#73a8b4" d="M985.1,110.2L993.5,109.7L992.4,106.9L983.9,107.4z"/>
<path color="#397fb3" d="M991.2,104.1L999.7,103.6L998.5,100.8L990.1,101.3zM1025.2,102.0L1033.7,101.4L1032.6,98.6L1024.0,99.2zM1054.3,108.7L1062.9,108.2L1061.7,105.4L1053.1,105.9z"/>
<path color="#639eb3" d="M1009.3,105.8L1017.8,105.3L1016.6,102.5L1008.2,103.0z"/>
<path color="#68a1b3" d="M1046.8,112.1L1055.4,111.5L1054.3,108.7L1045.7,109.3z"/>
<path color="#4f92b2" d="M1056.5,114.3L1065.1,113.8L1064.0,111.0L1055.4,111.5z"/>
<path color="#4489b3" d="M1055.4,111.5L1064.0,111.0L1062.9,108.2L1054.3,108.7z"/>
<path color="#2e2e5f" d="M751.2,133.6L761.9,132.9L761.9,138.9L751.2,139.6zM751.2,139.6L761.9,138.9L761.9,170.9L751.2,171.6zM751.2,171.6L761.9,170.9L761.9,178.9L751.2,179.6zM897.3,124.4L905.5,123.9L905.5,129.9L897.3,130.4zM897.3,130.4L905.5,129.9L905.5,161.9L897.3,162.4zM897.3,162.4L905.5,161.9L905.5,169.9L897.3,170.4z"/>
<path color="#2b2950" d="M761.9,132.9L769.7,132.4L769.7,138.4L761.9,138.9zM761.9,170.9L769.7,170.4L769.7,178.4L761.9,178.9z"/>
<path color="#29284b" d="M761.9,138.9L769.7,138.4L769.7,170.4L761.9,170.9zM881.0,125.4L889.2,124.9L889.2,130.9L881.0,131.4zM881.0,163.4L889.2,162.9L889.2,170.9L881.0,171.4z"/>
<path color="#24223c" d="M769.7,132.4L777.5,131.9L777.5,137.9L769.7,138.4zM872.9,125.9L881.0,125.4L881.0,131.4L872.9,131.9z"/>
<path color="#222138" d="M769.7,138.4L777.5,137.9L777.5,169.9L769.7,170.4zM872.9,131.9L881.0,131.4L881.0,163.4L872.9,163.9z"/>
<path color="#25233e" d="M769.7,170.4L777.5,169.9L777.5,177.9L769.7,178.4zM872.9,163.9L881.0,163.4L881.0,171.4L872.9,171.9z"/>
<path color="#191923" d="M777.5,131.9L785.3,131.4L785.3,137.4L777.5,137.9z"/>
<path color="#17171e" d="M777.5,137.9L785.3,137.4L785.3,169.4L777.5,169.9zM856.8,126.9L864.9,126.4L864.9,132.4L856.8,132.9z"/>
<path color="#1b1a26" d="M777.5,169.9L785.3,169.4L785.3,177.4L777.5,177.9z"/>
<path color="#141415" d="M785.3,131.4L793.2,130.9L793.2,136.9L785.3,137.4zM848.8,165.4L856.8,164.9L856.8,172.9L848.8,173.4z"/>
<path color="#151314" d="M785.3,137.4L793.2,136.9L793.2,168.9L785.3,169.4zM848.8,127.4L856.8,126.9L856.8,132.9L848.8,133.4z"/>
<path color="#151417" d="M785.3,169.4L793.2,168.9L793.2,176.9L785.3,177.4z"/>
<path color="#1a1315" d="M793.2,130.9L801.0,130.4L801.0,136.4L793.2,136.9z"/>
<path color="#211517" d="M793.2,136.9L801.0,136.4L801.0,168.4L793.2,168.9zM801.0,168.4L808.9,167.9L808.9,175.9L801.0,176.4z"/>
<path color="#181314" d="M793.2,168.9L801.0,168.4L801.0,176.4L793.2,176.9zM848.8,133.4L856.8,132.9L856.8,164.9L848.8,165.4z"/>
<path color="#29161a" d="M801.0,130.4L808.9,129.9L808.9,135.9L801.0,136.4zM808.9,167.9L816.9,167.4L816.9,175.4L808.9,175.9zM824.8,166.9L832.8,166.4L832.8,174.4L824.8,174.9z"/>
<path color="#32181e" d="M801.0,136.4L808.9,135.9L808.9,167.9L801.0,168.4zM808.9,129.9L816.9,129.4L816.9,135.4L808.9,135.9zM824.8,128.9L832.8,128.4L832.8,134.4L824.8,134.9z"/>
<path color="#3e1b23" d="M808.9,135.9L816.9,135.4L816.9,167.4L808.9,167.9zM824.8,134.9L832.8,134.4L832.8,166.4L824.8,166.9z"/>
<path color="#34191f" d="M816.9,129.4L824.8,128.9L824.8,134.9L816.9,135.4zM832.8,134.4L840.8,133.9L840.8,165.9L832.8,166.4z"/>
<path color="#411b25" d="M816.9,135.4L824.8,134.9L824.8,166.9L816.9,167.4z"/>
<path color="#2c171c" d="M816.9,167.4L824.8,166.9L824.8,174.9L816.9,175.4zM832.8,128.4L840.8,127.9L840.8,133.9L832.8,134.4z"/>
<path color="#231518" d="M832.8,166.4L840.8,165.9L840.8,173.9L832.8,174.4z"/>
<path color="#1f1416" d="M840.8,127.9L848.8,127.4L848.8,133.4L840.8,133.9z"/>
<path color="#261619" d="M840.8,133.9L848.8,133.4L848.8,165.4L840.8,165.9z"/>
<path color="#191314" d="M840.8,165.9L848.8,165.4L848.8,173.4L840.8,173.9z"/>
<path color="#16151b" d="M856.8,132.9L864.9,132.4L864.9,164.4L856.8,164.9z"/>
<path color="#181821" d="M856.8,164.9L864.9,164.4L864.9,172.4L856.8,172.9z"/>
<path color="#1d1d2d" d="M864.9,126.4L872.9,125.9L872.9,131.9L864.9,132.4z"/>
<path color="#1c1b29" d="M864.9,132.4L872.9,131.9L872.9,163.9L864.9,164.4z"/>
<path color="#1f1e30" d="M864.9,164.4L872.9,163.9L872.9,171.9L864.9,172.4z"/>
<path color="#282647" d="M881.0,131.4L889.2,130.9L889.2,162.9L881.0,163.4z"/>
<path color="#2c2b55" d="M889.2,124.9L897.3,124.4L897.3,130.4L889.2,130.9zM889.2,130.9L897.3,130.4L897.3,162.4L889.2,162.9z"/>
<path color="#2d2d5a" d="M889.2,162.9L897.3,162.4L897.3,170.4L889.2,170.9z"/>
<path color="#2c407f" d="M930.1,122.3L938.4,121.8L938.4,167.8L930.1,168.3z"/>
<path color="#264985" d="M938.4,121.8L946.7,121.3L946.7,167.3L938.4,167.8z"/>
<path color="#245787" d="M946.7,121.3L955.0,120.7L955.0,166.7L946.7,167.3z"/>
<path color="#306486" d="M955.0,120.7L963.3,120.2L963.3,166.2L955.0,166.7z"/>
<path color="#467485" d="M963.3,120.2L971.7,119.7L971.7,165.7L963.3,166.2z"/>
<path color="#5c8187" d="M971.7,119.7L980.1,119.2L980.1,165.2L971.7,165.7z"/>
<path color="#678889" d="M980.1,119.2L988.5,118.6L988.5,164.6L980.1,165.2z"/>
<path color="#6e8d8b" d="M988.5,118.6L996.9,118.1L996.9,164.1L988.5,164.6zM996.9,118.1L1005.4,117.6L1005.4,163.6L996.9,164.1zM1005.4,117.6L1013.8,117.0L1013.8,163.0L1005.4,163.6zM1013.8,117.0L1022.3,116.5L1022.3,162.5L1013.8,163.0zM1022.3,116.5L1030.8,116.0L1030.8,162.0L1022.3,162.5zM1030.8,116.0L1039.4,115.4L1039.4,161.4L1030.8,162.0zM1039.4,115.4L1047.9,114.9L1047.9,160.9L1039.4,161.4z"/>
<path color="#587e87" d="M1047.9,114.9L1056.5,114.3L1056.5,160.3L1047.9,160.9z"/>
<path color="#3b6d85" d="M1056.5,114.3L1065.1,113.8L1065.1,159.8L1056.5,160.3z"/>
<path color="#265987" d="M1065.1,113.8L1073.8,113.3L1073.8,159.3L1065.1,159.8z"/>
<path color="#2a4382" d="M1073.8,113.3L1085.7,112.5L1085.7,158.5L1073.8,159.3z"/>
<path color="#2f3064" d="M761.9,178.9L769.7,178.4L769.7,183.4L761.9,183.9zM881.0,171.4L889.2,170.9L889.2,175.9L881.0,176.4z"/>
<path color="#2e2e5f" d="M769.7,178.4L777.5,177.9L777.5,182.9L769.7,183.4zM872.9,171.9L881.0,171.4L881.0,176.4L872.9,176.9z"/>
<path color="#2b2950" d="M777.5,177.9L785.3,177.4L785.3,182.4L777.5,182.9zM856.8,172.9L864.9,172.4L864.9,177.4L856.8,177.9z"/>
<path color="#282647" d="M785.3,177.4L793.2,176.9L793.2,181.9L785.3,182.4z"/>
<path color="#25233e" d="M793.2,176.9L801.0,176.4L801.0,181.4L793.2,181.9z"/>
<path color="#222138" d="M801.0,176.4L808.9,175.9L808.9,180.9L801.0,181.4zM832.8,174.4L840.8,173.9L840.8,178.9L832.8,179.4z"/>
<path color="#211f34" d="M808.9,175.9L816.9,175.4L816.9,180.4L808.9,180.9zM816.9,175.4L824.8,174.9L824.8,179.9L816.9,180.4zM824.8,174.9L832.8,174.4L832.8,179.4L824.8,179.9z"/>
<path color="#2d2d5a" d="M808.9,180.9L816.9,180.4L816.9,185.9L808.9,186.4zM824.8,179.9L832.8,179.4L832.8,184.9L824.8,185.4z"/>
<path color="#2c2b55" d="M816.9,180.4L824.8,179.9L824.8,185.4L816.9,185.9zM864.9,172.4L872.9,171.9L872.9,176.9L864.9,177.4z"/>
<path color="#24223c" d="M840.8,173.9L848.8,173.4L848.8,178.4L840.8,178.9z"/>
<path color="#262542" d="M848.8,173.4L856.8,172.9L856.8,177.9L848.8,178.4z"/>
<path color="#2e3a78" d="M980.1,165.2L988.5,164.6L988.5,169.6L980.1,170.2zM988.5,164.6L996.9,164.1L996.9,169.1L988.5,169.6zM996.9,164.1L1005.4,163.6L1005.4,168.6L996.9,169.1zM1005.4,163.6L1013.8,163.0L1013.8,168.0L1005.4,168.6zM1013.8,163.0L1022.3,162.5L1022.3,167.5L1013.8,168.0zM1013.8,168.0L1022.3,167.5L1022.3,173.0L1013.8,173.5zM1022.3,162.5L1030.8,162.0L1030.8,167.0L1022.3,167.5zM1030.8,162.0L1039.4,161.4L1039.4,166.4L1030.8,167.0zM1039.4,161.4L1047.9,160.9L1047.9,165.9L1039.4,166.4z"/></g>
<text x="896.6" y="38.7" text-anchor="middle" class="h">Discharge, 0.8 years</text>
<path d="M45.8,342.4 L539.3,312.5M45.8,342.4 L46.0,414.5M46.0,414.5 L539.3,384.7M539.3,312.5 L539.3,384.7M46.0,414.5 L67.1,466.3M67.1,466.3 L560.8,436.2M539.3,384.7 L560.8,436.2M539.3,312.5 L560.8,363.2M560.8,363.2 L560.8,436.2" fill="none" stroke="#000" stroke-width="1" stroke-linecap="round"/>
<use href="#v2" xlink:href="#v2" class="u"/>
<g id="v2" class="v"><path color="#35356c" d="M91.0,392.8L89.9,390.0L89.9,436.0L91.0,438.8zM89.9,390.0L88.7,387.2L88.7,433.2L89.9,436.0zM117.5,379.6L116.3,376.8L116.3,422.8L117.5,425.6zM116.3,376.8L115.2,374.0L115.2,420.0L116.3,422.8zM134.2,367.1L133.0,364.0L133.0,410.0L134.2,413.1zM147.7,363.1L146.2,359.4L146.2,405.4L147.7,409.1zM163.1,354.4L161.2,349.6L161.2,395.6L163.1,400.4z"/>
<path color="#363772" d="M88.7,387.2L87.6,384.4L87.6,430.4L88.7,433.2z"/>
<path color="#323161" d="M118.6,382.4L117.5,379.6L117.5,425.6L118.6,428.4zM136.5,372.7L135.4,369.9L135.4,415.9L136.5,418.7zM164.7,358.2L163.1,354.4L163.1,400.4L164.7,404.2z"/>
<path color="#343366" d="M135.4,369.9L134.2,367.1L134.2,413.1L135.4,415.9zM176.8,348.6L172.9,338.9L172.9,384.9L176.8,394.6z"/>
<path color="#354389" d="M359.5,370.1L358.4,367.3L358.4,413.3L359.5,416.1zM358.4,367.3L357.3,364.5L357.3,410.5L358.4,413.3zM364.5,361.2L363.3,358.4L363.3,404.4L364.5,407.2zM370.6,355.1L369.4,352.3L369.4,398.3L370.6,401.1zM376.5,348.7L375.0,345.0L375.0,391.0L376.5,394.7zM391.9,343.9L390.3,340.1L390.3,386.1L391.9,389.9zM398.8,339.6L396.8,334.8L396.8,380.8L398.8,385.6z"/>
<path color="#364085" d="M357.3,364.5L356.1,361.7L356.1,407.7L357.3,410.5zM363.3,358.4L362.2,355.6L362.2,401.6L363.3,404.4zM369.4,352.3L368.2,349.2L368.2,395.2L369.4,398.3z"/>
<path color="#3e3e7f" d="M91.0,392.8L122.0,390.8L119.7,385.2L88.7,387.2zM117.5,379.6L138.8,378.3L136.5,372.7L115.2,374.0zM134.2,367.1L148.9,366.2L147.7,363.1L133.0,364.0zM147.7,363.1L158.4,362.4L156.9,358.7L146.2,359.4zM163.1,354.4L170.9,353.9L169.0,349.1L161.2,349.6zM300.5,349.7L308.7,349.1L307.1,345.3L298.9,345.9zM311.4,355.9L319.6,355.4L318.4,352.3L310.2,352.8zM320.8,358.2L329.0,357.7L327.9,354.9L319.6,355.4zM330.1,360.5L338.4,360.0L337.3,357.2L329.0,357.7zM340.7,365.6L349.0,365.1L346.7,359.5L338.4,360.0z"/>
<path color="#3f4186" d="M88.7,387.2L119.7,385.2L118.6,382.4L87.6,384.4z"/>
<path color="#302e50" d="M122.0,390.8L143.3,389.5L142.2,386.7L120.9,388.0zM159.6,365.5L167.4,365.0L166.2,361.9L158.4,362.4zM178.7,353.4L186.6,352.9L184.7,348.1L176.8,348.6zM333.5,368.9L341.8,368.4L340.7,365.6L332.4,366.1z"/>
<path color="#312f53" d="M120.9,388.0L142.2,386.7L141.0,383.9L119.7,385.2zM138.8,378.3L153.5,377.4L152.3,374.6L137.6,375.5zM150.1,369.0L160.8,368.3L159.6,365.5L148.9,366.2zM345.2,376.8L353.5,376.3L352.4,373.5L344.1,374.0z"/>
<path color="#35335f" d="M119.7,385.2L141.0,383.9L139.9,381.1L118.6,382.4zM137.6,375.5L152.3,374.6L151.2,371.8L136.5,372.7zM166.2,361.9L174.0,361.4L172.5,357.7L164.7,358.2zM200.4,347.1L208.3,346.6L204.4,336.9L196.5,337.4zM208.3,346.6L216.3,346.1L212.4,336.4L204.4,336.9zM216.3,346.1L224.3,345.6L220.3,335.9L212.4,336.4zM312.5,358.7L320.8,358.2L319.6,355.4L311.4,355.9zM321.9,361.0L330.1,360.5L329.0,357.7L320.8,358.2z"/>
<path color="#3b3a71" d="M118.6,382.4L139.9,381.1L138.8,378.3L117.5,379.6zM136.5,372.7L151.2,371.8L150.1,369.0L135.4,369.9zM164.7,358.2L172.5,357.7L170.9,353.9L163.1,354.4zM248.3,344.1L256.3,343.6L252.4,333.9L244.4,334.4zM302.0,353.4L310.2,352.8L308.7,349.1L300.5,349.7zM344.1,374.0L352.4,373.5L351.2,370.7L342.9,371.2z"/>
<path color="#1c1c21" d="M143.3,389.5L158.0,388.6L156.9,385.8L142.2,386.7zM163.0,373.9L170.8,373.4L169.7,370.6L161.9,371.1zM218.2,350.9L226.2,350.4L224.3,345.6L216.3,346.1zM242.2,349.4L250.2,348.9L248.3,344.1L240.3,344.6zM251.8,352.7L259.8,352.2L258.3,348.4L250.2,348.9zM259.8,352.2L267.9,351.7L266.4,347.9L258.3,348.4zM285.6,354.4L293.8,353.9L292.3,350.2L284.1,350.7zM325.3,369.4L333.5,368.9L332.4,366.1L324.2,366.6z"/>
<path color="#1e1d25" d="M142.2,386.7L156.9,385.8L155.7,383.0L141.0,383.9zM181.8,360.9L189.6,360.4L188.1,356.7L180.3,357.2zM202.4,351.9L210.3,351.4L208.3,346.6L200.4,347.1zM295.0,357.0L303.2,356.5L302.0,353.4L293.8,353.9zM324.2,366.6L332.4,366.1L331.3,363.3L323.0,363.8z"/>
<path color="#242333" d="M141.0,383.9L155.7,383.0L154.6,380.2L139.9,381.1zM304.3,359.3L312.5,358.7L311.4,355.9L303.2,356.5z"/>
<path color="#2e2c4b" d="M139.9,381.1L154.6,380.2L153.5,377.4L138.8,378.3zM151.2,371.8L161.9,371.1L160.8,368.3L150.1,369.0z"/>
<path color="#3d3c78" d="M135.4,369.9L150.1,369.0L148.9,366.2L134.2,367.1zM158.4,362.4L166.2,361.9L164.7,358.2L156.9,358.7zM170.9,353.9L178.7,353.4L176.8,348.6L169.0,349.1zM176.8,348.6L184.7,348.1L180.7,338.4L172.9,338.9zM282.6,346.9L290.7,346.4L288.8,341.6L280.7,342.1zM342.9,371.2L351.2,370.7L349.0,365.1L340.7,365.6z"/>
<path color="#572431" d="M158.0,388.6L168.7,387.9L167.6,385.1L156.9,385.8zM291.4,368.7L299.6,368.2L298.4,365.4L290.3,365.9zM301.8,373.8L310.0,373.3L308.9,370.5L300.7,371.0z"/>
<path color="#3b1f25" d="M156.9,385.8L167.6,385.1L166.4,382.3L155.7,383.0zM213.3,358.9L221.3,358.4L219.8,354.7L211.8,355.2zM311.2,376.1L319.3,375.5L318.2,372.7L310.0,373.3z"/>
<path color="#201a1b" d="M155.7,383.0L166.4,382.3L165.3,379.5L154.6,380.2zM211.8,355.2L219.8,354.7L218.2,350.9L210.3,351.4zM269.4,355.4L277.5,354.9L276.0,351.2L267.9,351.7zM297.3,362.6L305.5,362.1L304.3,359.3L296.2,359.8zM306.6,364.9L314.8,364.3L313.7,361.5L305.5,362.1zM317.1,369.9L325.3,369.4L324.2,366.6L315.9,367.1z"/>
<path color="#1d1d24" d="M154.6,380.2L165.3,379.5L164.2,376.7L153.5,377.4zM176.3,367.3L184.2,366.8L183.0,364.0L175.2,364.5zM188.1,356.7L196.0,356.2L194.5,352.4L186.6,352.9zM210.3,351.4L218.2,350.9L216.3,346.1L208.3,346.6zM267.9,351.7L276.0,351.2L274.5,347.4L266.4,347.9z"/>
<path color="#22212f" d="M153.5,377.4L164.2,376.7L163.0,373.9L152.3,374.6zM175.2,364.5L183.0,364.0L181.8,360.9L174.0,361.4zM186.6,352.9L194.5,352.4L192.5,347.6L184.7,348.1zM336.9,377.3L345.2,376.8L344.1,374.0L335.8,374.5z"/>
<path color="#292841" d="M152.3,374.6L163.0,373.9L161.9,371.1L151.2,371.8zM160.8,368.3L168.5,367.8L167.4,365.0L159.6,365.5zM293.8,353.9L302.0,353.4L300.5,349.7L292.3,350.2zM335.8,374.5L344.1,374.0L342.9,371.2L334.7,371.7z"/>
<path color="#39376b" d="M148.9,366.2L159.6,365.5L158.4,362.4L147.7,363.1zM258.3,348.4L266.4,347.9L264.4,343.1L256.3,343.6zM266.4,347.9L274.5,347.4L272.5,342.6L264.4,343.1zM274.5,347.4L282.6,346.9L280.7,342.1L272.5,342.6zM292.3,350.2L300.5,349.7L298.9,345.9L290.7,346.4z"/>
<path color="#ab3434" d="M168.7,387.9L176.5,387.4L175.3,384.6L167.6,385.1zM223.7,364.3L231.6,363.8L230.5,361.0L222.5,361.5z"/>
<path color="#8d293b" d="M167.6,385.1L175.3,384.6L174.2,381.8L166.4,382.3zM199.9,365.8L207.8,365.3L206.7,362.5L198.8,363.0zM239.6,363.3L247.6,362.8L246.5,360.0L238.5,360.5zM284.4,372.0L292.6,371.5L291.4,368.7L283.3,369.2z"/>
<path color="#5c2533" d="M166.4,382.3L174.2,381.8L173.1,379.0L165.3,379.5zM198.8,363.0L206.7,362.5L205.4,359.4L197.5,359.9zM263.7,361.8L271.8,361.3L270.7,358.5L262.6,359.0zM282.2,366.4L290.3,365.9L289.2,363.1L281.0,363.6zM303.0,376.6L311.2,376.1L310.0,373.3L301.8,373.8z"/>
<path color="#331d22" d="M165.3,379.5L173.1,379.0L171.9,376.2L164.2,376.7zM205.4,359.4L213.3,358.9L211.8,355.2L203.9,355.7z"/>
<path color="#1b1a1a" d="M164.2,376.7L171.9,376.2L170.8,373.4L163.0,373.9zM196.0,356.2L203.9,355.7L202.4,351.9L194.5,352.4z"/>
<path color="#20202c" d="M161.9,371.1L169.7,370.6L168.5,367.8L160.8,368.3zM168.5,367.8L176.3,367.3L175.2,364.5L167.4,365.0zM276.0,351.2L284.1,350.7L282.6,346.9L274.5,347.4z"/>
<path color="#c85a2d" d="M176.5,387.4L184.3,386.9L183.2,384.1L175.3,384.6zM182.0,381.3L189.8,380.8L188.7,378.0L180.9,378.5zM202.2,371.4L210.1,370.9L208.9,368.1L201.0,368.6zM241.9,368.9L249.9,368.4L248.8,365.6L240.7,366.1z"/>
<path color="#bd462e" d="M175.3,384.6L183.2,384.1L182.0,381.3L174.2,381.8zM187.6,375.2L195.4,374.7L194.3,371.9L186.4,372.4zM278.6,378.1L286.7,377.6L285.6,374.8L277.5,375.3z"/>
<path color="#a73135" d="M174.2,381.8L182.0,381.3L180.9,378.5L173.1,379.0zM215.7,364.8L223.7,364.3L222.5,361.5L214.6,362.0zM231.6,363.8L239.6,363.3L238.5,360.5L230.5,361.0zM248.8,365.6L256.8,365.1L255.7,362.3L247.6,362.8zM276.3,372.5L284.4,372.0L283.3,369.2L275.2,369.7zM287.8,380.4L296.0,379.9L294.8,377.1L286.7,377.6z"/>
<path color="#78283a" d="M173.1,379.0L180.9,378.5L179.7,375.7L171.9,376.2zM222.5,361.5L230.5,361.0L229.2,357.9L221.3,358.4zM230.5,361.0L238.5,360.5L237.2,357.4L229.2,357.9zM274.1,366.9L282.2,366.4L281.0,363.6L272.9,364.1zM283.3,369.2L291.4,368.7L290.3,365.9L282.2,366.4zM293.7,374.3L301.8,373.8L300.7,371.0L292.6,371.5z"/>
<path color="#49222b" d="M171.9,376.2L179.7,375.7L178.6,372.9L170.8,373.4zM254.5,359.5L262.6,359.0L261.3,355.9L253.3,356.4zM300.7,371.0L308.9,370.5L307.7,367.7L299.6,368.2z"/>
<path color="#231a1c" d="M170.8,373.4L178.6,372.9L177.5,370.1L169.7,370.6zM177.5,370.1L185.3,369.6L184.2,366.8L176.3,367.3zM219.8,354.7L227.7,354.2L226.2,350.4L218.2,350.9zM261.3,355.9L269.4,355.4L267.9,351.7L259.8,352.2zM319.3,375.5L327.6,375.0L326.4,372.2L318.2,372.7z"/>
<path color="#1b1b1d" d="M169.7,370.6L177.5,370.1L176.3,367.3L168.5,367.8zM234.2,349.9L242.2,349.4L240.3,344.6L232.2,345.1zM277.5,354.9L285.6,354.4L284.1,350.7L276.0,351.2zM296.2,359.8L304.3,359.3L303.2,356.5L295.0,357.0zM327.6,375.0L335.8,374.5L334.7,371.7L326.4,372.2z"/>
<path color="#2c2a46" d="M167.4,365.0L175.2,364.5L174.0,361.4L166.2,361.9zM172.5,357.7L180.3,357.2L178.7,353.4L170.9,353.9zM334.7,371.7L342.9,371.2L341.8,368.4L333.5,368.9z"/>
<path color="#d3814d" d="M184.3,386.9L192.1,386.4L191.0,383.6L183.2,384.1zM189.8,380.8L197.7,380.3L196.6,377.5L188.7,378.0zM203.3,374.2L211.2,373.7L210.1,370.9L202.2,371.4zM263.6,381.9L271.7,381.4L270.5,378.6L262.5,379.1z"/>
<path color="#ce6d38" d="M183.2,384.1L191.0,383.6L189.8,380.8L182.0,381.3zM233.9,369.4L241.9,368.9L240.7,366.1L232.8,366.6z"/>
<path color="#b63e30" d="M180.9,378.5L188.7,378.0L187.6,375.2L179.7,375.7zM201.0,368.6L208.9,368.1L207.8,365.3L199.9,365.8zM277.5,375.3L285.6,374.8L284.4,372.0L276.3,372.5z"/>
<path color="#922a3b" d="M179.7,375.7L187.6,375.2L186.4,372.4L178.6,372.9zM193.2,369.1L201.0,368.6L199.9,365.8L192.0,366.3z"/>
<path color="#53242f" d="M178.6,372.9L186.4,372.4L185.3,369.6L177.5,370.1zM192.0,366.3L199.9,365.8L198.8,363.0L190.9,363.5z"/>
<path color="#252538" d="M174.0,361.4L181.8,360.9L180.3,357.2L172.5,357.7zM313.7,361.5L321.9,361.0L320.8,358.2L312.5,358.7zM323.0,363.8L331.3,363.3L330.1,360.5L321.9,361.0z"/>
<path color="#d9a076" d="M192.1,386.4L200.0,385.9L198.8,383.1L191.0,383.6zM236.2,375.0L244.1,374.5L243.0,371.7L235.0,372.2zM245.3,377.3L253.3,376.8L252.2,374.0L244.1,374.5z"/>
<path color="#d69262" d="M191.0,383.6L198.8,383.1L197.7,380.3L189.8,380.8zM211.2,373.7L219.1,373.2L218.0,370.4L210.1,370.9zM219.1,373.2L227.1,372.7L225.9,369.9L218.0,370.4zM227.1,372.7L235.0,372.2L233.9,369.4L225.9,369.9z"/>
<path color="#cc6331" d="M188.7,378.0L196.6,377.5L195.4,374.7L187.6,375.2zM251.0,371.2L259.1,370.7L257.9,367.9L249.9,368.4zM271.7,381.4L279.7,380.9L278.6,378.1L270.5,378.6z"/>
<path color="#88283c" d="M186.4,372.4L194.3,371.9L193.2,369.1L185.3,369.6zM296.0,379.9L304.1,379.4L303.0,376.6L294.8,377.1z"/>
<path color="#452129" d="M185.3,369.6L193.2,369.1L192.0,366.3L184.2,366.8zM229.2,357.9L237.2,357.4L235.7,353.7L227.7,354.2zM237.2,357.4L245.2,356.9L243.7,353.2L235.7,353.7zM281.0,363.6L289.2,363.1L288.0,360.3L279.9,360.8z"/>
<path color="#261a1c" d="M184.2,366.8L192.0,366.3L190.9,363.5L183.0,364.0zM190.9,363.5L198.8,363.0L197.5,359.9L189.6,360.4zM227.7,354.2L235.7,353.7L234.2,349.9L226.2,350.4zM235.7,353.7L243.7,353.2L242.2,349.4L234.2,349.9zM253.3,356.4L261.3,355.9L259.8,352.2L251.8,352.7zM278.8,358.0L286.9,357.5L285.6,354.4L277.5,354.9zM320.5,378.3L328.7,377.8L327.6,375.0L319.3,375.5z"/>
<path color="#1c1a1a" d="M183.0,364.0L190.9,363.5L189.6,360.4L181.8,360.9zM189.6,360.4L197.5,359.9L196.0,356.2L188.1,356.7zM286.9,357.5L295.0,357.0L293.8,353.9L285.6,354.4zM315.9,367.1L324.2,366.6L323.0,363.8L314.8,364.3z"/>
<path color="#27263c" d="M180.3,357.2L188.1,356.7L186.6,352.9L178.7,353.4zM250.2,348.9L258.3,348.4L256.3,343.6L248.3,344.1z"/>
<path color="#dcb18c" d="M200.0,385.9L207.8,385.4L206.7,382.6L198.8,383.1zM207.8,385.4L215.7,384.9L213.5,379.3L205.6,379.8zM215.7,384.9L223.7,384.4L220.3,376.0L212.3,376.5zM223.7,384.4L231.6,383.9L228.2,375.5L220.3,376.0zM231.6,383.9L239.6,383.4L236.2,375.0L228.2,375.5zM239.6,383.4L247.5,382.9L244.1,374.5L236.2,375.0zM247.5,382.9L255.6,382.4L254.4,379.6L246.4,380.1z"/>
<path color="#dbaa83" d="M198.8,383.1L206.7,382.6L205.6,379.8L197.7,380.3zM212.3,376.5L220.3,376.0L219.1,373.2L211.2,373.7zM228.2,375.5L236.2,375.0L235.0,372.2L227.1,372.7zM246.4,380.1L254.4,379.6L253.3,376.8L245.3,377.3z"/>
<path color="#d89c6f" d="M197.7,380.3L205.6,379.8L204.4,377.0L196.6,377.5zM204.4,377.0L212.3,376.5L211.2,373.7L203.3,374.2zM255.6,382.4L263.6,381.9L262.5,379.1L254.4,379.6z"/>
<path color="#d38450" d="M196.6,377.5L204.4,377.0L203.3,374.2L195.4,374.7zM235.0,372.2L243.0,371.7L241.9,368.9L233.9,369.4z"/>
<path color="#ca5e2e" d="M195.4,374.7L203.3,374.2L202.2,371.4L194.3,371.9zM260.2,373.5L268.3,373.0L267.1,370.2L259.1,370.7zM270.5,378.6L278.6,378.1L277.5,375.3L269.4,375.8z"/>
<path color="#ba422f" d="M194.3,371.9L202.2,371.4L201.0,368.6L193.2,369.1z"/>
<path color="#373565" d="M184.7,348.1L192.5,347.6L188.6,337.9L180.7,338.4zM192.5,347.6L200.4,347.1L196.5,337.4L188.6,337.9zM331.3,363.3L339.5,362.8L338.4,360.0L330.1,360.5z"/>
<path color="#dcaf89" d="M205.6,379.8L213.5,379.3L212.3,376.5L204.4,377.0zM220.3,376.0L228.2,375.5L227.1,372.7L219.1,373.2z"/>
<path color="#2c1b1f" d="M197.5,359.9L205.4,359.4L203.9,355.7L196.0,356.2zM289.2,363.1L297.3,362.6L296.2,359.8L288.0,360.3zM298.4,365.4L306.6,364.9L305.5,362.1L297.3,362.6z"/>
<path color="#1f1e28" d="M194.5,352.4L202.4,351.9L200.4,347.1L192.5,347.6z"/>
<path color="#d0733c" d="M210.1,370.9L218.0,370.4L216.8,367.6L208.9,368.1zM261.3,376.3L269.4,375.8L268.3,373.0L260.2,373.5z"/>
<path color="#c24e2d" d="M208.9,368.1L216.8,367.6L215.7,364.8L207.8,365.3zM249.9,368.4L257.9,367.9L256.8,365.1L248.8,365.6zM259.1,370.7L267.1,370.2L266.0,367.4L257.9,367.9z"/>
<path color="#a12e38" d="M207.8,365.3L215.7,364.8L214.6,362.0L206.7,362.5z"/>
<path color="#6b2737" d="M206.7,362.5L214.6,362.0L213.3,358.9L205.4,359.4zM238.5,360.5L246.5,360.0L245.2,356.9L237.2,357.4z"/>
<path color="#1e1a1a" d="M203.9,355.7L211.8,355.2L210.3,351.4L202.4,351.9zM243.7,353.2L251.8,352.7L250.2,348.9L242.2,349.4z"/>
<path color="#d17841" d="M218.0,370.4L225.9,369.9L224.8,367.1L216.8,367.6zM225.9,369.9L233.9,369.4L232.8,366.6L224.8,367.1zM243.0,371.7L251.0,371.2L249.9,368.4L241.9,368.9zM252.2,374.0L260.2,373.5L259.1,370.7L251.0,371.2z"/>
<path color="#c5532c" d="M216.8,367.6L224.8,367.1L223.7,364.3L215.7,364.8zM232.8,366.6L240.7,366.1L239.6,363.3L231.6,363.8z"/>
<path color="#702739" d="M214.6,362.0L222.5,361.5L221.3,358.4L213.3,358.9zM292.6,371.5L300.7,371.0L299.6,368.2L291.4,368.7z"/>
<path color="#c6552c" d="M224.8,367.1L232.8,366.6L231.6,363.8L223.7,364.3zM269.4,375.8L277.5,375.3L276.3,372.5L268.3,373.0z"/>
<path color="#432129" d="M221.3,358.4L229.2,357.9L227.7,354.2L219.8,354.7zM262.6,359.0L270.7,358.5L269.4,355.4L261.3,355.9zM290.3,365.9L298.4,365.4L297.3,362.6L289.2,363.1z"/>
<path color="#1c1b1f" d="M226.2,350.4L234.2,349.9L232.2,345.1L224.3,345.6zM305.5,362.1L313.7,361.5L312.5,358.7L304.3,359.3zM314.8,364.3L323.0,363.8L321.9,361.0L313.7,361.5zM326.4,372.2L334.7,371.7L333.5,368.9L325.3,369.4z"/>
<path color="#333159" d="M224.3,345.6L232.2,345.1L228.3,335.4L220.3,335.9zM232.2,345.1L240.3,344.6L236.3,334.9L228.3,335.4zM240.3,344.6L248.3,344.1L244.4,334.4L236.3,334.9zM284.1,350.7L292.3,350.2L290.7,346.4L282.6,346.9zM303.2,356.5L311.4,355.9L310.2,352.8L302.0,353.4zM332.4,366.1L340.7,365.6L339.5,362.8L331.3,363.3z"/>
<path color="#d58d5c" d="M244.1,374.5L252.2,374.0L251.0,371.2L243.0,371.7z"/>
<path color="#b33a31" d="M240.7,366.1L248.8,365.6L247.6,362.8L239.6,363.3zM257.9,367.9L266.0,367.4L264.8,364.6L256.8,365.1z"/>
<path color="#d79769" d="M254.4,379.6L262.5,379.1L261.3,376.3L253.3,376.8z"/>
<path color="#d48956" d="M253.3,376.8L261.3,376.3L260.2,373.5L252.2,374.0z"/>
<path color="#7d283b" d="M247.6,362.8L255.7,362.3L254.5,359.5L246.5,360.0z"/>
<path color="#4e232d" d="M246.5,360.0L254.5,359.5L253.3,356.4L245.2,356.9zM271.8,361.3L279.9,360.8L278.8,358.0L270.7,358.5z"/>
<path color="#2f1c20" d="M245.2,356.9L253.3,356.4L251.8,352.7L243.7,353.2zM270.7,358.5L278.8,358.0L277.5,354.9L269.4,355.4zM308.9,370.5L317.1,369.9L315.9,367.1L307.7,367.7z"/>
<path color="#d27c47" d="M262.5,379.1L270.5,378.6L269.4,375.8L261.3,376.3z"/>
<path color="#972b3a" d="M256.8,365.1L264.8,364.6L263.7,361.8L255.7,362.3zM275.2,369.7L283.3,369.2L282.2,366.4L274.1,366.9z"/>
<path color="#732739" d="M255.7,362.3L263.7,361.8L262.6,359.0L254.5,359.5z"/>
<path color="#bf4a2d" d="M268.3,373.0L276.3,372.5L275.2,369.7L267.1,370.2zM279.7,380.9L287.8,380.4L286.7,377.6L278.6,378.1z"/>
<path color="#af3732" d="M267.1,370.2L275.2,369.7L274.1,366.9L266.0,367.4z"/>
<path color="#9c2c39" d="M266.0,367.4L274.1,366.9L272.9,364.1L264.8,364.6zM285.6,374.8L293.7,374.3L292.6,371.5L284.4,372.0z"/>
<path color="#83283b" d="M264.8,364.6L272.9,364.1L271.8,361.3L263.7,361.8zM294.8,377.1L303.0,376.6L301.8,373.8L293.7,374.3z"/>
<path color="#662636" d="M272.9,364.1L281.0,363.6L279.9,360.8L271.8,361.3z"/>
<path color="#a32f37" d="M286.7,377.6L294.8,377.1L293.7,374.3L285.6,374.8z"/>
<path color="#371e23" d="M279.9,360.8L288.0,360.3L286.9,357.5L278.8,358.0zM310.0,373.3L318.2,372.7L317.1,369.9L308.9,370.5z"/>
<path color="#221a1b" d="M288.0,360.3L296.2,359.8L295.0,357.0L286.9,357.5zM318.2,372.7L326.4,372.2L325.3,369.4L317.1,369.9z"/>
<path color="#612634" d="M304.1,379.4L312.3,378.9L311.2,376.1L303.0,376.6z"/>
<path color="#3f2027" d="M299.6,368.2L307.7,367.7L306.6,364.9L298.4,365.4zM312.3,378.9L320.5,378.3L319.3,375.5L311.2,376.1z"/>
<path color="#291b1e" d="M307.7,367.7L315.9,367.1L314.8,364.3L306.6,364.9z"/>
<path color="#1b1a1c" d="M328.7,377.8L336.9,377.3L335.8,374.5L327.6,375.0z"/>
<path color="#3e4ea1" d="M353.5,376.3L361.8,375.7L360.7,372.9L352.4,373.5zM359.5,370.1L367.9,369.6L365.6,364.0L357.3,364.5zM364.5,361.2L372.8,360.7L371.7,357.9L363.3,358.4zM370.6,355.1L378.9,354.6L377.8,351.8L369.4,352.3zM376.5,348.7L384.9,348.1L383.4,344.4L375.0,345.0zM384.9,348.1L393.4,347.6L391.9,343.9L383.4,344.4zM391.9,343.9L400.3,343.4L398.8,339.6L390.3,340.1zM398.8,339.6L407.3,339.0L405.3,334.2L396.8,334.8zM407.3,339.0L415.8,338.5L413.8,333.7L405.3,334.2zM415.8,338.5L424.3,338.0L422.3,333.2L413.8,333.7zM425.8,341.8L434.3,341.2L432.8,337.4L424.3,338.0zM434.3,341.2L442.9,340.7L441.4,336.9L432.8,337.4zM445.7,347.5L454.3,346.9L453.0,343.8L444.4,344.4zM455.4,349.7L464.0,349.2L462.9,346.4L454.3,346.9zM466.3,354.8L474.9,354.3L473.8,351.5L465.1,352.0zM476.0,357.1L488.0,356.3L486.8,353.5L474.9,354.3zM489.1,359.1L505.4,358.1L504.3,355.3L488.0,356.3z"/>
<path color="#3f4b9c" d="M352.4,373.5L360.7,372.9L359.5,370.1L351.2,370.7zM357.3,364.5L365.6,364.0L364.5,361.2L356.1,361.7zM363.3,358.4L371.7,357.9L370.6,355.1L362.2,355.6zM369.4,352.3L377.8,351.8L376.5,348.7L368.2,349.2z"/>
<path color="#3b56aa" d="M361.8,375.7L370.1,375.2L369.0,372.4L360.7,372.9zM366.7,366.8L375.1,366.3L374.0,363.5L365.6,364.0zM372.8,360.7L381.2,360.2L380.1,357.4L371.7,357.9zM378.9,354.6L387.3,354.0L386.2,351.2L377.8,351.8zM393.4,347.6L401.8,347.1L400.3,343.4L391.9,343.9zM400.3,343.4L408.8,342.8L407.3,339.0L398.8,339.6zM408.8,342.8L417.3,342.3L415.8,338.5L407.3,339.0zM417.3,342.3L425.8,341.8L424.3,338.0L415.8,338.5zM446.8,350.3L455.4,349.7L454.3,346.9L445.7,347.5zM508.8,370.8L528.5,369.5L527.4,366.7L507.7,368.0z"/>
<path color="#3d52a6" d="M360.7,372.9L369.0,372.4L367.9,369.6L359.5,370.1zM365.6,364.0L374.0,363.5L372.8,360.7L364.5,361.2zM371.7,357.9L380.1,357.4L378.9,354.6L370.6,355.1zM377.8,351.8L386.2,351.2L384.9,348.1L376.5,348.7zM435.8,344.9L444.4,344.4L442.9,340.7L434.3,341.2zM456.5,352.5L465.1,352.0L464.0,349.2L455.4,349.7zM490.2,361.9L506.5,360.9L505.4,358.1L489.1,359.1z"/>
<path color="#3362b3" d="M370.1,375.2L378.5,374.7L377.4,371.9L369.0,372.4zM375.1,366.3L383.5,365.8L382.3,363.0L374.0,363.5zM387.3,354.0L395.8,353.5L394.6,350.7L386.2,351.2zM410.3,346.5L418.8,346.0L417.3,342.3L408.8,342.8zM428.6,348.6L437.1,348.0L435.8,344.9L427.3,345.5zM438.2,350.8L446.8,350.3L445.7,347.5L437.1,348.0zM458.8,358.1L467.4,357.6L466.3,354.8L457.7,355.3zM478.3,362.7L490.2,361.9L489.1,359.1L477.2,359.9zM492.5,367.5L508.8,366.5L507.7,363.7L491.4,364.7z"/>
<path color="#365eb0" d="M369.0,372.4L377.4,371.9L376.2,369.1L367.9,369.6zM374.0,363.5L382.3,363.0L381.2,360.2L372.8,360.7zM380.1,357.4L388.5,356.8L387.3,354.0L378.9,354.6zM394.6,350.7L403.1,350.2L401.8,347.1L393.4,347.6zM401.8,347.1L410.3,346.5L408.8,342.8L400.3,343.4zM418.8,346.0L427.3,345.5L425.8,341.8L417.3,342.3zM447.9,353.1L456.5,352.5L455.4,349.7L446.8,350.3zM477.2,359.9L489.1,359.1L488.0,356.3L476.0,357.1z"/>
<path color="#385aad" d="M367.9,369.6L376.2,369.1L375.1,366.3L366.7,366.8zM386.2,351.2L394.6,350.7L393.4,347.6L384.9,348.1zM427.3,345.5L435.8,344.9L434.3,341.2L425.8,341.8zM437.1,348.0L445.7,347.5L444.4,344.4L435.8,344.9zM457.7,355.3L466.3,354.8L465.1,352.0L456.5,352.5zM467.4,357.6L476.0,357.1L474.9,354.3L466.3,354.8zM491.4,364.7L507.7,363.7L506.5,360.9L490.2,361.9z"/>
<path color="#2f6cb5" d="M378.5,374.7L386.9,374.2L385.7,371.4L377.4,371.9zM383.5,365.8L391.9,365.2L390.7,362.4L382.3,363.0zM396.9,356.3L405.3,355.8L404.2,353.0L395.8,353.5zM404.2,353.0L412.7,352.4L411.5,349.6L403.1,350.2zM429.7,351.4L438.2,350.8L437.1,348.0L428.6,348.6zM450.2,358.7L458.8,358.1L457.7,355.3L449.1,355.9zM459.9,360.9L468.5,360.4L467.4,357.6L458.8,358.1zM469.7,363.2L478.3,362.7L477.2,359.9L468.5,360.4z"/>
<path color="#3068b4" d="M377.4,371.9L385.7,371.4L384.6,368.6L376.2,369.1zM382.3,363.0L390.7,362.4L389.6,359.6L381.2,360.2zM388.5,356.8L396.9,356.3L395.8,353.5L387.3,354.0zM411.5,349.6L420.0,349.1L418.8,346.0L410.3,346.5zM420.0,349.1L428.6,348.6L427.3,345.5L418.8,346.0zM439.4,353.6L447.9,353.1L446.8,350.3L438.2,350.8zM479.4,365.5L491.4,364.7L490.2,361.9L478.3,362.7z"/>
<path color="#3166b4" d="M376.2,369.1L384.6,368.6L383.5,365.8L375.1,366.3zM381.2,360.2L389.6,359.6L388.5,356.8L380.1,357.4zM395.8,353.5L404.2,353.0L403.1,350.2L394.6,350.7zM403.1,350.2L411.5,349.6L410.3,346.5L401.8,347.1zM449.1,355.9L457.7,355.3L456.5,352.5L447.9,353.1zM468.5,360.4L477.2,359.9L476.0,357.1L467.4,357.6z"/>
<path color="#3378b4" d="M386.9,374.2L395.3,373.6L394.1,370.8L385.7,371.4zM391.9,365.2L400.3,364.7L399.2,361.9L390.7,362.4zM398.0,359.1L406.5,358.6L405.3,355.8L396.9,356.3zM405.3,355.8L413.8,355.2L412.7,352.4L404.2,353.0zM422.3,354.7L430.8,354.2L429.7,351.4L421.2,351.9z"/>
<path color="#3174b5" d="M385.7,371.4L394.1,370.8L393.0,368.0L384.6,368.6zM390.7,362.4L399.2,361.9L398.0,359.1L389.6,359.6zM412.7,352.4L421.2,351.9L420.0,349.1L411.5,349.6zM430.8,354.2L439.4,353.6L438.2,350.8L429.7,351.4zM470.8,366.0L479.4,365.5L478.3,362.7L469.7,363.2z"/>
<path color="#3070b5" d="M384.6,368.6L393.0,368.0L391.9,365.2L383.5,365.8zM389.6,359.6L398.0,359.1L396.9,356.3L388.5,356.8zM421.2,351.9L429.7,351.4L428.6,348.6L420.0,349.1zM440.5,356.4L449.1,355.9L447.9,353.1L439.4,353.6zM480.6,368.3L492.5,367.5L491.4,364.7L479.4,365.5z"/>
<path color="#3c82b3" d="M395.3,373.6L403.7,373.1L402.6,370.3L394.1,370.8zM400.3,364.7L408.7,364.2L407.6,361.4L399.2,361.9zM415.0,358.0L423.4,357.5L422.3,354.7L413.8,355.2zM423.4,357.5L432.0,357.0L430.8,354.2L422.3,354.7zM462.2,366.5L470.8,366.0L469.7,363.2L461.1,363.7z"/>
<path color="#397fb3" d="M394.1,370.8L402.6,370.3L400.3,364.7L391.9,365.2zM399.2,361.9L407.6,361.4L406.5,358.6L398.0,359.1zM406.5,358.6L415.0,358.0L413.8,355.2L405.3,355.8zM432.0,357.0L440.5,356.4L439.4,353.6L430.8,354.2zM441.6,359.2L450.2,358.7L449.1,355.9L440.5,356.4zM471.9,368.8L480.6,368.3L479.4,365.5L470.8,366.0z"/>
<path color="#468bb3" d="M403.7,373.1L412.1,372.6L411.0,369.8L402.6,370.3zM434.2,362.6L442.8,362.0L441.6,359.2L433.1,359.8zM443.9,364.8L452.5,364.3L451.3,361.5L442.8,362.0zM453.6,367.1L462.2,366.5L461.1,363.7L452.5,364.3z"/>
<path color="#4489b3" d="M402.6,370.3L411.0,369.8L409.9,367.0L401.4,367.5zM408.7,364.2L417.2,363.6L416.1,360.8L407.6,361.4zM416.1,360.8L424.6,360.3L423.4,357.5L415.0,358.0zM424.6,360.3L433.1,359.8L432.0,357.0L423.4,357.5zM463.3,369.3L471.9,368.8L470.8,366.0L462.2,366.5z"/>
<path color="#4086b3" d="M401.4,367.5L409.9,367.0L408.7,364.2L400.3,364.7zM407.6,361.4L416.1,360.8L415.0,358.0L406.5,358.6zM433.1,359.8L441.6,359.2L440.5,356.4L432.0,357.0zM442.8,362.0L451.3,361.5L450.2,358.7L441.6,359.2zM452.5,364.3L461.1,363.7L459.9,360.9L451.3,361.5z"/>
<path color="#5395b2" d="M412.1,372.6L420.6,372.0L419.5,369.2L411.0,369.8zM420.6,372.0L429.1,371.5L426.8,365.9L418.4,366.4zM429.1,371.5L437.6,371.0L435.4,365.4L426.8,365.9zM437.6,371.0L446.2,370.4L443.9,364.8L435.4,365.4zM446.2,370.4L454.7,369.9L453.6,367.1L445.0,367.6z"/>
<path color="#4f92b2" d="M411.0,369.8L419.5,369.2L418.4,366.4L409.9,367.0zM418.4,366.4L426.8,365.9L425.7,363.1L417.2,363.6zM426.8,365.9L435.4,365.4L434.2,362.6L425.7,363.1zM435.4,365.4L443.9,364.8L442.8,362.0L434.2,362.6zM445.0,367.6L453.6,367.1L452.5,364.3L443.9,364.8z"/>
<path color="#4a8eb2" d="M409.9,367.0L418.4,366.4L417.2,363.6L408.7,364.2zM417.2,363.6L425.7,363.1L424.6,360.3L416.1,360.8zM425.7,363.1L434.2,362.6L433.1,359.8L424.6,360.3zM454.7,369.9L463.3,369.3L462.2,366.5L453.6,367.1z"/>
<path color="#367bb4" d="M413.8,355.2L422.3,354.7L421.2,351.9L412.7,352.4zM451.3,361.5L459.9,360.9L458.8,358.1L450.2,358.7zM461.1,363.7L469.7,363.2L468.5,360.4L459.9,360.9z"/>
<path color="#2e2e5f" d="M91.0,392.8L122.0,390.8L122.0,429.8L91.0,431.8zM91.0,431.8L122.0,429.8L122.0,433.8L91.0,435.8z"/>
<path color="#2f3064" d="M91.0,435.8L122.0,433.8L122.0,436.8L91.0,438.8z"/>
<path color="#24223c" d="M122.0,390.8L143.3,389.5L143.3,428.5L122.0,429.8z"/>
<path color="#25233e" d="M122.0,429.8L143.3,428.5L143.3,432.5L122.0,433.8zM345.2,376.8L353.5,376.3L353.5,415.3L345.2,415.8z"/>
<path color="#29284b" d="M122.0,433.8L143.3,432.5L143.3,435.5L122.0,436.8z"/>
<path color="#151519" d="M143.3,389.5L158.0,388.6L158.0,427.6L143.3,428.5zM328.7,416.8L336.9,416.3L336.9,420.3L328.7,420.8z"/>
<path color="#16161c" d="M143.3,428.5L158.0,427.6L158.0,431.6L143.3,432.5zM320.5,421.3L328.7,420.8L328.7,423.8L320.5,424.3z"/>
<path color="#1d1d2d" d="M143.3,432.5L158.0,431.6L158.0,434.6L143.3,435.5z"/>
<path color="#411b25" d="M158.0,388.6L168.7,387.9L168.7,426.9L158.0,427.6zM279.7,423.9L287.8,423.4L287.8,426.4L279.7,426.9z"/>
<path color="#32181e" d="M158.0,427.6L168.7,426.9L168.7,430.9L158.0,431.6zM287.8,423.4L296.0,422.9L296.0,425.9L287.8,426.4z"/>
<path color="#181314" d="M158.0,431.6L168.7,430.9L168.7,433.9L158.0,434.6zM320.5,417.3L328.7,416.8L328.7,420.8L320.5,421.3z"/>
<path color="#802727" d="M168.7,387.9L176.5,387.4L176.5,426.4L168.7,426.9z"/>
<path color="#6d1f2c" d="M168.7,426.9L176.5,426.4L176.5,430.4L168.7,430.9zM192.1,429.4L200.0,428.9L200.0,431.9L192.1,432.4z"/>
<path color="#34191f" d="M168.7,430.9L176.5,430.4L176.5,433.4L168.7,433.9z"/>
<path color="#954322" d="M176.5,387.4L184.3,386.9L184.3,425.9L176.5,426.4zM184.3,425.9L192.1,425.4L192.1,429.4L184.3,429.9zM263.6,420.9L271.7,420.4L271.7,424.4L263.6,424.9z"/>
<path color="#882e24" d="M176.5,426.4L184.3,425.9L184.3,429.9L176.5,430.4z"/>
<path color="#491c27" d="M176.5,430.4L184.3,429.9L184.3,432.9L176.5,433.4zM304.1,379.4L312.3,378.9L312.3,417.9L304.1,418.4z"/>
<path color="#9d6139" d="M184.3,386.9L192.1,386.4L192.1,425.4L184.3,425.9zM263.6,381.9L271.7,381.4L271.7,420.4L263.6,420.9z"/>
<path color="#5a1e2b" d="M184.3,429.9L192.1,429.4L192.1,432.4L184.3,432.9zM263.6,424.9L271.7,424.4L271.7,427.4L263.6,427.9z"/>
<path color="#a27858" d="M192.1,386.4L200.0,385.9L200.0,424.9L192.1,425.4z"/>
<path color="#9c5931" d="M192.1,425.4L200.0,424.9L200.0,428.9L192.1,429.4z"/>
<path color="#a58469" d="M200.0,385.9L207.8,385.4L207.8,424.4L200.0,424.9zM207.8,385.4L215.7,384.9L215.7,423.9L207.8,424.4zM215.7,384.9L223.7,384.4L223.7,423.4L215.7,423.9zM223.7,384.4L231.6,383.9L231.6,422.9L223.7,423.4zM231.6,383.9L239.6,383.4L239.6,422.4L231.6,422.9zM239.6,383.4L247.5,382.9L247.5,421.9L239.6,422.4zM247.5,382.9L255.6,382.4L255.6,421.4L247.5,421.9z"/>
<path color="#9f6640" d="M200.0,424.9L207.8,424.4L207.8,428.4L200.0,428.9zM207.8,424.4L215.7,423.9L215.7,427.9L207.8,428.4zM215.7,423.9L223.7,423.4L223.7,427.4L215.7,427.9zM223.7,423.4L231.6,422.9L231.6,426.9L223.7,427.4zM231.6,422.9L239.6,422.4L239.6,426.4L231.6,426.9zM239.6,422.4L247.5,421.9L247.5,425.9L239.6,426.4zM247.5,421.9L255.6,421.4L255.6,425.4L247.5,425.9z"/>
<path color="#75212a" d="M200.0,428.9L207.8,428.4L207.8,431.4L200.0,431.9zM207.8,428.4L215.7,427.9L215.7,430.9L207.8,431.4zM215.7,427.9L223.7,427.4L223.7,430.4L215.7,430.9zM223.7,427.4L231.6,426.9L231.6,429.9L223.7,430.4zM231.6,426.9L239.6,426.4L239.6,429.4L231.6,429.9zM239.6,426.4L247.5,425.9L247.5,428.9L239.6,429.4zM247.5,425.9L255.6,425.4L255.6,428.4L247.5,428.9z"/>
<path color="#a27453" d="M255.6,382.4L263.6,381.9L263.6,420.9L255.6,421.4z"/>
<path color="#9b562d" d="M255.6,421.4L263.6,420.9L263.6,424.9L255.6,425.4z"/>
<path color="#6a1f2c" d="M255.6,425.4L263.6,424.9L263.6,427.9L255.6,428.4zM287.8,419.4L296.0,418.9L296.0,422.9L287.8,423.4z"/>
<path color="#984a24" d="M271.7,381.4L279.7,380.9L279.7,419.9L271.7,420.4z"/>
<path color="#8b3123" d="M271.7,420.4L279.7,419.9L279.7,423.9L271.7,424.4z"/>
<path color="#4c1d28" d="M271.7,424.4L279.7,423.9L279.7,426.9L271.7,427.4z"/>
<path color="#8f3722" d="M279.7,380.9L287.8,380.4L287.8,419.4L279.7,419.9z"/>
<path color="#7d2528" d="M279.7,419.9L287.8,419.4L287.8,423.4L279.7,423.9zM287.8,380.4L296.0,379.9L296.0,418.9L287.8,419.4z"/>
<path color="#661e2d" d="M296.0,379.9L304.1,379.4L304.1,418.4L296.0,418.9z"/>
<path color="#501d29" d="M296.0,418.9L304.1,418.4L304.1,422.4L296.0,422.9z"/>
<path color="#231518" d="M296.0,422.9L304.1,422.4L304.1,425.4L296.0,425.9zM312.3,417.9L320.5,417.3L320.5,421.3L312.3,421.9z"/>
<path color="#371920" d="M304.1,418.4L312.3,417.9L312.3,421.9L304.1,422.4z"/>
<path color="#191314" d="M304.1,422.4L312.3,421.9L312.3,424.9L304.1,425.4z"/>
<path color="#2f181d" d="M312.3,378.9L320.5,378.3L320.5,417.3L312.3,417.9z"/>
<path color="#141415" d="M312.3,421.9L320.5,421.3L320.5,424.3L312.3,424.9zM328.7,377.8L336.9,377.3L336.9,416.3L328.7,416.8z"/>
<path color="#1c1415" d="M320.5,378.3L328.7,377.8L328.7,416.8L320.5,417.3z"/>
<path color="#1b1a26" d="M328.7,420.8L336.9,420.3L336.9,423.3L328.7,423.8z"/>
<path color="#191923" d="M336.9,377.3L345.2,376.8L345.2,415.8L336.9,416.3z"/>
<path color="#1c1b29" d="M336.9,416.3L345.2,415.8L345.2,419.8L336.9,420.3z"/>
<path color="#222138" d="M336.9,420.3L345.2,419.8L345.2,422.8L336.9,423.3z"/>
<path color="#262542" d="M345.2,415.8L353.5,415.3L353.5,419.3L345.2,419.8z"/>
<path color="#2b2950" d="M345.2,419.8L353.5,419.3L353.5,422.3L345.2,422.8z"/>
<path color="#2e3a78" d="M353.5,376.3L361.8,375.7L361.8,421.7L353.5,422.3z"/>
<path color="#2c407f" d="M361.8,375.7L370.1,375.2L370.1,421.2L361.8,421.7zM508.8,370.8L528.5,369.5L528.5,411.2L508.8,412.5z"/>
<path color="#264985" d="M370.1,375.2L378.5,374.7L378.5,420.7L370.1,421.2zM492.5,367.5L508.8,366.5L508.8,412.5L492.5,413.5z"/>
<path color="#235187" d="M378.5,374.7L386.9,374.2L386.9,420.2L378.5,420.7z"/>
<path color="#265987" d="M386.9,374.2L395.3,373.6L395.3,419.6L386.9,420.2z"/>
<path color="#2d6186" d="M395.3,373.6L403.7,373.1L403.7,419.1L395.3,419.6z"/>
<path color="#346885" d="M403.7,373.1L412.1,372.6L412.1,418.6L403.7,419.1z"/>
<path color="#3e6f85" d="M412.1,372.6L420.6,372.0L420.6,418.0L412.1,418.6zM420.6,372.0L429.1,371.5L429.1,417.5L420.6,418.0zM429.1,371.5L437.6,371.0L437.6,417.0L429.1,417.5zM437.6,371.0L446.2,370.4L446.2,416.4L437.6,417.0zM446.2,370.4L454.7,369.9L454.7,415.9L446.2,416.4z"/>
<path color="#376a85" d="M454.7,369.9L463.3,369.3L463.3,415.3L454.7,415.9z"/>
<path color="#336685" d="M463.3,369.3L471.9,368.8L471.9,414.8L463.3,415.3z"/>
<path color="#2a5f86" d="M471.9,368.8L480.6,368.3L480.6,414.3L471.9,414.8z"/>
<path color="#245487" d="M480.6,368.3L492.5,367.5L492.5,413.5L480.6,414.3z"/>
<path color="#29284b" d="M143.3,435.5L158.0,434.6L158.0,439.6L143.3,440.5zM192.1,442.9L200.0,442.4L200.0,447.9L192.1,448.4zM200.0,442.4L207.8,441.9L207.8,447.4L200.0,447.9zM207.8,441.9L215.7,441.4L215.7,446.9L207.8,447.4zM215.7,441.4L223.7,440.9L223.7,446.4L215.7,446.9zM223.7,440.9L231.6,440.4L231.6,445.9L223.7,446.4zM231.6,440.4L239.6,439.9L239.6,445.4L231.6,445.9zM239.6,439.9L247.5,439.4L247.5,444.9L239.6,445.4zM247.5,439.4L255.6,438.9L255.6,444.4L247.5,444.9zM255.6,438.9L263.6,438.4L263.6,443.9L255.6,444.4zM296.0,430.9L304.1,430.4L304.1,435.9L296.0,436.4z"/>
<path color="#1f1e30" d="M158.0,434.6L168.7,433.9L168.7,438.9L158.0,439.6zM304.1,425.4L312.3,424.9L312.3,429.9L304.1,430.4z"/>
<path color="#2b2950" d="M158.0,439.6L168.7,438.9L168.7,444.4L158.0,445.1zM176.5,443.9L184.3,443.4L184.3,448.9L176.5,449.4zM184.3,443.4L192.1,442.9L192.1,448.4L184.3,448.9zM263.6,438.4L271.7,437.9L271.7,443.4L263.6,443.9zM271.7,437.9L279.7,437.4L279.7,442.9L271.7,443.4zM304.1,430.4L312.3,429.9L312.3,435.4L304.1,435.9z"/>
<path color="#181821" d="M168.7,433.9L176.5,433.4L176.5,438.4L168.7,438.9zM287.8,426.4L296.0,425.9L296.0,430.9L287.8,431.4z"/>
<path color="#282647" d="M168.7,438.9L176.5,438.4L176.5,443.9L168.7,444.4zM287.8,431.4L296.0,430.9L296.0,436.4L287.8,436.9zM328.7,423.8L336.9,423.3L336.9,428.3L328.7,428.8z"/>
<path color="#16151b" d="M176.5,433.4L184.3,432.9L184.3,437.9L176.5,438.4z"/>
<path color="#262542" d="M176.5,438.4L184.3,437.9L184.3,443.4L176.5,443.9zM279.7,431.9L287.8,431.4L287.8,436.9L279.7,437.4z"/>
<path color="#141416" d="M184.3,432.9L192.1,432.4L192.1,437.4L184.3,437.9zM263.6,427.9L271.7,427.4L271.7,432.4L263.6,432.9z"/>
<path color="#25233e" d="M184.3,437.9L192.1,437.4L192.1,442.9L184.3,443.4zM263.6,432.9L271.7,432.4L271.7,437.9L263.6,438.4zM271.7,432.4L279.7,431.9L279.7,437.4L271.7,437.9zM320.5,424.3L328.7,423.8L328.7,428.8L320.5,429.3z"/>
<path color="#141414" d="M192.1,432.4L200.0,431.9L200.0,436.9L192.1,437.4z"/>
<path color="#24223c" d="M192.1,437.4L200.0,436.9L200.0,442.4L192.1,442.9zM255.6,433.4L263.6,432.9L263.6,438.4L255.6,438.9z"/>
<path color="#151314" d="M200.0,431.9L207.8,431.4L207.8,436.4L200.0,436.9zM207.8,431.4L215.7,430.9L215.7,435.9L207.8,436.4zM215.7,430.9L223.7,430.4L223.7,435.4L215.7,435.9zM223.7,430.4L231.6,429.9L231.6,434.9L223.7,435.4zM231.6,429.9L239.6,429.4L239.6,434.4L231.6,434.9zM239.6,429.4L247.5,428.9L247.5,433.9L239.6,434.4zM247.5,428.9L255.6,428.4L255.6,433.4L247.5,433.9z"/>
<path color="#222138" d="M200.0,436.9L207.8,436.4L207.8,441.9L200.0,442.4zM207.8,436.4L215.7,435.9L215.7,441.4L207.8,441.9zM215.7,435.9L223.7,435.4L223.7,440.9L215.7,441.4zM223.7,435.4L231.6,434.9L231.6,440.4L223.7,440.9zM231.6,434.9L239.6,434.4L239.6,439.9L231.6,440.4zM239.6,434.4L247.5,433.9L247.5,439.4L239.6,439.9zM247.5,433.9L255.6,433.4L255.6,438.9L247.5,439.4zM312.3,424.9L320.5,424.3L320.5,429.3L312.3,429.9z"/>
<path color="#2c2b55" d="M215.7,446.9L223.7,446.4L223.7,449.9L215.7,450.4zM223.7,446.4L231.6,445.9L231.6,449.4L223.7,449.9zM231.6,445.9L239.6,445.4L239.6,448.9L231.6,449.4zM279.7,437.4L287.8,436.9L287.8,442.4L279.7,442.9zM312.3,429.9L320.5,429.3L320.5,434.8L312.3,435.4zM336.9,423.3L345.2,422.8L345.2,427.8L336.9,428.3z"/>
<path color="#141415" d="M255.6,428.4L263.6,427.9L263.6,432.9L255.6,433.4z"/>
<path color="#151519" d="M271.7,427.4L279.7,426.9L279.7,431.9L271.7,432.4z"/>
<path color="#16161c" d="M279.7,426.9L287.8,426.4L287.8,431.4L279.7,431.9z"/>
<path color="#1b1a26" d="M296.0,425.9L304.1,425.4L304.1,430.4L296.0,430.9z"/>
<path color="#2d2d5a" d="M320.5,429.3L328.7,428.8L328.7,434.3L320.5,434.8z"/>
<path color="#2e2e5f" d="M345.2,422.8L353.5,422.3L353.5,427.3L345.2,427.8z"/>
<path color="#2f3875" d="M353.5,422.3L361.8,421.7L361.8,426.7L353.5,427.3z"/>
<path color="#2e3a78" d="M361.8,421.7L370.1,421.2L370.1,426.2L361.8,426.7z"/>
<path color="#2c407f" d="M370.1,421.2L378.5,420.7L378.5,425.7L370.1,426.2zM386.9,425.2L395.3,424.6L395.3,430.1L386.9,430.7zM412.1,429.1L420.6,428.5L420.6,434.0L412.1,434.6zM420.6,428.5L429.1,428.0L429.1,433.5L420.6,434.0zM429.1,428.0L437.6,427.5L437.6,433.0L429.1,433.5zM437.6,427.5L446.2,426.9L446.2,432.4L437.6,433.0zM446.2,426.9L454.7,426.4L454.7,431.9L446.2,432.4z"/>
<path color="#284684" d="M378.5,420.7L386.9,420.2L386.9,425.2L378.5,425.7zM403.7,424.1L412.1,423.6L412.1,429.1L403.7,429.6zM454.7,420.9L463.3,420.3L463.3,425.8L454.7,426.4zM463.3,420.3L471.9,419.8L471.9,425.3L463.3,425.8zM480.6,414.3L492.5,413.5L492.5,418.5L480.6,419.3z"/>
<path color="#2d3d7c" d="M378.5,425.7L386.9,425.2L386.9,430.7L378.5,431.2zM403.7,429.6L412.1,429.1L412.1,434.6L403.7,435.1z"/>
<path color="#264985" d="M386.9,420.2L395.3,419.6L395.3,424.6L386.9,425.2zM412.1,423.6L420.6,423.0L420.6,428.5L412.1,429.1zM420.6,423.0L429.1,422.5L429.1,428.0L420.6,428.5zM429.1,422.5L437.6,422.0L437.6,427.5L429.1,428.0zM437.6,422.0L446.2,421.4L446.2,426.9L437.6,427.5zM446.2,421.4L454.7,420.9L454.7,426.4L446.2,426.9z"/>
<path color="#244e87" d="M395.3,419.6L403.7,419.1L403.7,424.1L395.3,424.6zM471.9,414.8L480.6,414.3L480.6,419.3L471.9,419.8z"/>
<path color="#2a4382" d="M395.3,424.6L403.7,424.1L403.7,429.6L395.3,430.1z"/>
<path color="#245487" d="M403.7,419.1L412.1,418.6L412.1,423.6L403.7,424.1z"/>
<path color="#265987" d="M412.1,418.6L420.6,418.0L420.6,423.0L412.1,423.6zM420.6,418.0L429.1,417.5L429.1,422.5L420.6,423.0zM429.1,417.5L437.6,417.0L437.6,422.0L429.1,422.5zM437.6,417.0L446.2,416.4L446.2,421.4L437.6,422.0zM446.2,416.4L454.7,415.9L454.7,420.9L446.2,421.4z"/>
<path color="#245787" d="M454.7,415.9L463.3,415.3L463.3,420.3L454.7,420.9z"/>
<path color="#235187" d="M463.3,415.3L471.9,414.8L471.9,419.8L463.3,420.3z"/></g>
<text x="303.4" y="293.7" text-anchor="middle" class="h">Charge, 4.3 years</text>
<path d="M639.0,342.4 L1132.5,312.5M639.0,342.4 L639.2,414.5M639.2,414.5 L1132.5,384.7M1132.5,312.5 L1132.5,384.7M639.2,414.5 L660.3,466.3M660.3,466.3 L1154.0,436.2M1132.5,384.7 L1154.0,436.2M1132.5,312.5 L1154.0,363.2M1154.0,363.2 L1154.0,436.2" fill="none" stroke="#000" stroke-width="1" stroke-linecap="round"/>
<use href="#v3" xlink:href="#v3" class="u"/>
<g id="v3" class="v"><path color="#35356c" d="M684.2,392.8L683.1,390.0L683.1,436.0L684.2,438.8zM683.1,390.0L681.9,387.2L681.9,433.2L683.1,436.0zM711.8,382.4L710.7,379.6L710.7,425.6L711.8,428.4zM730.8,375.5L729.7,372.7L729.7,418.7L730.8,421.5zM743.3,369.0L742.1,366.2L742.1,412.2L743.3,415.0zM751.6,362.4L750.1,358.7L750.1,404.7L751.6,408.4zM764.1,353.9L762.2,349.1L762.2,395.1L764.1,399.9zM777.9,348.1L773.9,338.4L773.9,384.4L777.9,394.1z"/>
<path color="#323161" d="M712.9,385.2L711.8,382.4L711.8,428.4L712.9,431.2z"/>
<path color="#363772" d="M710.7,379.6L709.5,376.8L709.5,422.8L710.7,425.6zM729.7,372.7L728.6,369.9L728.6,415.9L729.7,418.7zM742.1,366.2L740.9,363.1L740.9,409.1L742.1,412.2zM750.1,358.7L748.5,354.9L748.5,400.9L750.1,404.7z"/>
<path color="#354389" d="M932.7,362.8L931.6,360.0L931.6,406.0L932.7,408.8zM939.9,359.5L938.8,356.7L938.8,402.7L939.9,405.5zM938.8,356.7L937.6,353.9L937.6,399.9L938.8,402.7zM945.9,353.3L944.7,350.2L944.7,396.2L945.9,399.3zM953.0,349.7L951.5,346.0L951.5,392.0L953.0,395.7zM959.9,345.5L958.3,341.7L958.3,387.7L959.9,391.5zM966.7,341.2L964.8,336.4L964.8,382.4L966.7,387.2z"/>
<path color="#3e3e7f" d="M684.2,392.8L715.2,390.8L712.9,385.2L681.9,387.2zM711.8,382.4L733.1,381.1L732.0,378.3L710.7,379.6zM730.8,375.5L745.5,374.6L744.4,371.8L729.7,372.7zM743.3,369.0L754.0,368.3L752.8,365.5L742.1,366.2zM751.6,362.4L759.4,361.9L757.9,358.2L750.1,358.7zM757.9,358.2L765.7,357.7L764.1,353.9L756.3,354.4zM764.1,353.9L771.9,353.4L770.0,348.6L762.2,349.1zM771.9,353.4L779.8,352.9L777.9,348.1L770.0,348.6zM777.9,348.1L785.7,347.6L781.8,337.9L773.9,338.4zM833.5,344.6L841.5,344.1L837.6,334.4L829.5,334.9zM859.6,347.9L867.7,347.4L865.7,342.6L857.6,343.1zM869.2,351.2L877.3,350.7L875.8,346.9L867.7,347.4zM877.3,350.7L885.5,350.2L883.9,346.4L875.8,346.9zM887.0,353.9L895.2,353.4L892.1,345.9L883.9,346.4zM897.5,359.3L905.7,358.7L903.4,352.8L895.2,353.4zM908.0,364.3L916.2,363.8L914.0,358.2L905.7,358.7zM920.8,375.0L929.0,374.5L925.6,366.1L917.4,366.6z"/>
<path color="#35335f" d="M715.2,390.8L736.5,389.5L735.4,386.7L714.1,388.0zM767.2,361.4L775.0,360.9L773.5,357.2L765.7,357.7zM773.5,357.2L781.3,356.7L779.8,352.9L771.9,353.4zM835.4,349.4L843.4,348.9L841.5,344.1L833.5,344.6zM912.5,375.5L920.8,375.0L919.6,372.2L911.4,372.7z"/>
<path color="#39376b" d="M714.1,388.0L735.4,386.7L734.2,383.9L712.9,385.2zM732.0,378.3L746.7,377.4L745.5,374.6L730.8,375.5z"/>
<path color="#3b3a71" d="M712.9,385.2L734.2,383.9L733.1,381.1L711.8,382.4zM744.4,371.8L755.1,371.1L754.0,368.3L743.3,369.0zM752.8,365.5L760.6,365.0L759.4,361.9L751.6,362.4zM765.7,357.7L773.5,357.2L771.9,353.4L764.1,353.9zM809.5,346.1L817.5,345.6L813.5,335.9L805.6,336.4zM817.5,345.6L825.4,345.1L821.5,335.4L813.5,335.9zM825.4,345.1L833.5,344.6L829.5,334.9L821.5,335.4zM861.1,351.7L869.2,351.2L867.7,347.4L859.6,347.9zM888.2,357.0L896.4,356.5L895.2,353.4L887.0,353.9zM910.3,369.9L918.5,369.4L917.4,366.6L909.1,367.1z"/>
<path color="#3f4186" d="M710.7,379.6L732.0,378.3L730.8,375.5L709.5,376.8zM729.7,372.7L744.4,371.8L743.3,369.0L728.6,369.9zM742.1,366.2L752.8,365.5L751.6,362.4L740.9,363.1zM750.1,358.7L757.9,358.2L756.3,354.4L748.5,354.9zM917.4,366.6L925.6,366.1L924.5,363.3L916.2,363.8z"/>
<path color="#292841" d="M736.5,389.5L751.2,388.6L750.1,385.8L735.4,386.7zM757.4,376.7L765.1,376.2L764.0,373.4L756.2,373.9zM811.4,350.9L819.4,350.4L817.5,345.6L809.5,346.1zM819.4,350.4L827.4,349.9L825.4,345.1L817.5,345.6zM827.4,349.9L835.4,349.4L833.5,344.6L825.4,345.1zM905.5,378.9L913.7,378.3L912.5,375.5L904.4,376.1z"/>
<path color="#2e2c4b" d="M735.4,386.7L750.1,385.8L748.9,383.0L734.2,383.9zM747.8,380.2L758.5,379.5L757.4,376.7L746.7,377.4zM775.0,360.9L782.8,360.4L781.3,356.7L773.5,357.2zM787.7,352.4L795.6,351.9L793.6,347.1L785.7,347.6zM836.9,353.2L845.0,352.7L843.4,348.9L835.4,349.4zM881.2,360.3L889.4,359.8L888.2,357.0L880.1,357.5zM891.6,365.4L899.8,364.9L898.7,362.1L890.5,362.6z"/>
<path color="#333159" d="M734.2,383.9L748.9,383.0L747.8,380.2L733.1,381.1zM755.1,371.1L762.9,370.6L761.7,367.8L754.0,368.3zM760.6,365.0L768.4,364.5L767.2,361.4L759.4,361.9zM913.7,378.3L921.9,377.8L920.8,375.0L912.5,375.5z"/>
<path color="#373565" d="M733.1,381.1L747.8,380.2L746.7,377.4L732.0,378.3zM745.5,374.6L756.2,373.9L755.1,371.1L744.4,371.8zM754.0,368.3L761.7,367.8L760.6,365.0L752.8,365.5zM759.4,361.9L767.2,361.4L765.7,357.7L757.9,358.2zM779.8,352.9L787.7,352.4L785.7,347.6L777.9,348.1zM878.8,354.4L887.0,353.9L885.5,350.2L877.3,350.7zM889.4,359.8L897.5,359.3L896.4,356.5L888.2,357.0zM899.8,364.9L908.0,364.3L906.9,361.5L898.7,362.1zM911.4,372.7L919.6,372.2L918.5,369.4L910.3,369.9z"/>
<path color="#1d1d24" d="M751.2,388.6L761.9,387.9L760.8,385.1L750.1,385.8zM771.8,372.9L779.6,372.4L778.5,369.6L770.7,370.1z"/>
<path color="#22212f" d="M750.1,385.8L760.8,385.1L759.6,382.3L748.9,383.0zM770.7,370.1L778.5,369.6L777.4,366.8L769.5,367.3zM797.1,355.7L805.0,355.2L803.5,351.4L795.6,351.9zM873.1,360.8L881.2,360.3L880.1,357.5L872.0,358.0zM883.5,365.9L891.6,365.4L890.5,362.6L882.4,363.1z"/>
<path color="#27263c" d="M748.9,383.0L759.6,382.3L758.5,379.5L747.8,380.2zM782.8,360.4L790.7,359.9L789.2,356.2L781.3,356.7zM854.5,355.9L862.6,355.4L861.1,351.7L853.0,352.2zM872.0,358.0L880.1,357.5L878.8,354.4L870.7,354.9zM882.4,363.1L890.5,362.6L889.4,359.8L881.2,360.3zM892.8,368.2L901.0,367.7L899.8,364.9L891.6,365.4z"/>
<path color="#312f53" d="M746.7,377.4L757.4,376.7L756.2,373.9L745.5,374.6zM853.0,352.2L861.1,351.7L859.6,347.9L851.5,348.4zM880.1,357.5L888.2,357.0L887.0,353.9L878.8,354.4zM890.5,362.6L898.7,362.1L897.5,359.3L889.4,359.8zM901.0,367.7L909.1,367.1L908.0,364.3L899.8,364.9z"/>
<path color="#201a1b" d="M761.9,387.9L769.7,387.4L768.5,384.6L760.8,385.1zM779.6,372.4L787.5,371.9L786.4,369.1L778.5,369.6zM831.7,360.5L839.7,360.0L838.4,356.9L830.4,357.4zM848.9,362.3L856.9,361.8L855.8,359.0L847.7,359.5z"/>
<path color="#1b1a1c" d="M760.8,385.1L768.5,384.6L767.4,381.8L759.6,382.3zM773.0,375.7L780.8,375.2L779.6,372.4L771.8,372.9zM778.5,369.6L786.4,369.1L785.2,366.3L777.4,366.8zM785.2,366.3L793.1,365.8L792.0,363.0L784.1,363.5zM792.0,363.0L799.9,362.5L798.6,359.4L790.7,359.9zM886.9,374.3L895.0,373.8L893.9,371.0L885.8,371.5z"/>
<path color="#1e1d25" d="M759.6,382.3L767.4,381.8L766.3,379.0L758.5,379.5zM784.1,363.5L792.0,363.0L790.7,359.9L782.8,360.4zM790.7,359.9L798.6,359.4L797.1,355.7L789.2,356.2zM820.9,354.2L828.9,353.7L827.4,349.9L819.4,350.4zM855.8,359.0L863.9,358.5L862.6,355.4L854.5,355.9zM874.2,363.6L882.4,363.1L881.2,360.3L873.1,360.8zM884.6,368.7L892.8,368.2L891.6,365.4L883.5,365.9zM897.3,379.4L905.5,378.9L904.4,376.1L896.2,376.6z"/>
<path color="#242333" d="M758.5,379.5L766.3,379.0L765.1,376.2L757.4,376.7zM789.2,356.2L797.1,355.7L795.6,351.9L787.7,352.4zM893.9,371.0L902.1,370.5L901.0,367.7L892.8,368.2z"/>
<path color="#302e50" d="M756.2,373.9L764.0,373.4L762.9,370.6L755.1,371.1zM761.7,367.8L769.5,367.3L768.4,364.5L760.6,365.0zM781.3,356.7L789.2,356.2L787.7,352.4L779.8,352.9zM845.0,352.7L853.0,352.2L851.5,348.4L843.4,348.9zM862.6,355.4L870.7,354.9L869.2,351.2L861.1,351.7zM870.7,354.9L878.8,354.4L877.3,350.7L869.2,351.2zM902.1,370.5L910.3,369.9L909.1,367.1L901.0,367.7z"/>
<path color="#3f2027" d="M769.7,387.4L777.5,386.9L776.4,384.1L768.5,384.6zM816.9,364.3L824.8,363.8L823.7,361.0L815.7,361.5zM824.8,363.8L832.8,363.3L831.7,360.5L823.7,361.0z"/>
<path color="#291b1e" d="M768.5,384.6L776.4,384.1L775.2,381.3L767.4,381.8zM780.8,375.2L788.6,374.7L787.5,371.9L779.6,372.4zM815.7,361.5L823.7,361.0L822.4,357.9L814.5,358.4zM868.4,369.7L876.5,369.2L875.4,366.4L867.3,366.9z"/>
<path color="#1e1a1a" d="M767.4,381.8L775.2,381.3L774.1,378.5L766.3,379.0z"/>
<path color="#1c1c21" d="M766.3,379.0L774.1,378.5L773.0,375.7L765.1,376.2z"/>
<path color="#20202c" d="M765.1,376.2L773.0,375.7L771.8,372.9L764.0,373.4zM805.0,355.2L813.0,354.7L811.4,350.9L803.5,351.4zM828.9,353.7L836.9,353.2L835.4,349.4L827.4,349.9zM846.5,356.4L854.5,355.9L853.0,352.2L845.0,352.7zM863.9,358.5L872.0,358.0L870.7,354.9L862.6,355.4zM895.0,373.8L903.2,373.3L902.1,370.5L893.9,371.0z"/>
<path color="#252538" d="M764.0,373.4L771.8,372.9L770.7,370.1L762.9,370.6zM769.5,367.3L777.4,366.8L776.2,364.0L768.4,364.5zM776.2,364.0L784.1,363.5L782.8,360.4L775.0,360.9z"/>
<path color="#2c2a46" d="M762.9,370.6L770.7,370.1L769.5,367.3L761.7,367.8zM768.4,364.5L776.2,364.0L775.0,360.9L767.2,361.4zM795.6,351.9L803.5,351.4L801.5,346.6L793.6,347.1zM803.5,351.4L811.4,350.9L809.5,346.1L801.5,346.6zM904.4,376.1L912.5,375.5L910.3,369.9L902.1,370.5z"/>
<path color="#6b2737" d="M777.5,386.9L785.3,386.4L784.2,383.6L776.4,384.1zM803.3,370.9L811.2,370.4L810.0,367.6L802.1,368.1zM827.1,369.4L835.1,368.9L833.9,366.1L826.0,366.6zM853.4,373.5L861.5,373.0L860.3,370.2L852.3,370.7zM863.7,378.6L871.8,378.1L870.7,375.3L862.6,375.8z"/>
<path color="#53242f" d="M776.4,384.1L784.2,383.6L783.0,380.8L775.2,381.3zM788.6,374.7L796.5,374.2L795.4,371.4L787.5,371.9zM810.0,367.6L818.0,367.1L816.9,364.3L808.9,364.8zM826.0,366.6L833.9,366.1L832.8,363.3L824.8,363.8zM861.5,373.0L869.5,372.5L868.4,369.7L860.3,370.2z"/>
<path color="#371e23" d="M775.2,381.3L783.0,380.8L781.9,378.0L774.1,378.5zM869.5,372.5L877.6,372.0L876.5,369.2L868.4,369.7z"/>
<path color="#221a1b" d="M774.1,378.5L781.9,378.0L780.8,375.2L773.0,375.7zM786.4,369.1L794.2,368.6L793.1,365.8L785.2,366.3zM793.1,365.8L801.0,365.3L799.9,362.5L792.0,363.0zM799.9,362.5L807.8,362.0L806.5,358.9L798.6,359.4zM867.3,366.9L875.4,366.4L874.2,363.6L866.1,364.1zM877.6,372.0L885.8,371.5L884.6,368.7L876.5,369.2z"/>
<path color="#88283c" d="M785.3,386.4L793.2,385.9L792.0,383.1L784.2,383.6zM797.6,377.0L805.5,376.5L804.4,373.7L796.5,374.2zM812.3,373.2L820.3,372.7L819.1,369.9L811.2,370.4zM828.2,372.2L836.2,371.7L835.1,368.9L827.1,369.4zM856.8,381.9L864.9,381.4L863.7,378.6L855.7,379.1z"/>
<path color="#78283a" d="M784.2,383.6L792.0,383.1L790.9,380.3L783.0,380.8zM854.5,376.3L862.6,375.8L861.5,373.0L853.4,373.5z"/>
<path color="#662636" d="M783.0,380.8L790.9,380.3L789.8,377.5L781.9,378.0zM835.1,368.9L843.1,368.4L842.0,365.6L833.9,366.1z"/>
<path color="#452129" d="M781.9,378.0L789.8,377.5L788.6,374.7L780.8,375.2z"/>
<path color="#1f1e28" d="M777.4,366.8L785.2,366.3L784.1,363.5L776.2,364.0zM813.0,354.7L820.9,354.2L819.4,350.4L811.4,350.9zM838.4,356.9L846.5,356.4L845.0,352.7L836.9,353.2zM896.2,376.6L904.4,376.1L903.2,373.3L895.0,373.8z"/>
<path color="#9c2c39" d="M793.2,385.9L801.0,385.4L799.9,382.6L792.0,383.1zM799.9,382.6L807.8,382.1L806.7,379.3L798.8,379.8zM806.7,379.3L814.6,378.8L813.5,376.0L805.5,376.5zM830.5,377.8L838.5,377.3L837.3,374.5L829.4,375.0zM840.8,382.9L848.8,382.4L846.5,376.8L838.5,377.3z"/>
<path color="#922a3b" d="M792.0,383.1L799.9,382.6L798.8,379.8L790.9,380.3zM805.5,376.5L813.5,376.0L812.3,373.2L804.4,373.7zM829.4,375.0L837.3,374.5L836.2,371.7L828.2,372.2zM847.6,379.6L855.7,379.1L854.5,376.3L846.5,376.8z"/>
<path color="#83283b" d="M790.9,380.3L798.8,379.8L797.6,377.0L789.8,377.5zM804.4,373.7L812.3,373.2L811.2,370.4L803.3,370.9zM845.4,374.0L853.4,373.5L852.3,370.7L844.2,371.2zM855.7,379.1L863.7,378.6L862.6,375.8L854.5,376.3z"/>
<path color="#702739" d="M789.8,377.5L797.6,377.0L796.5,374.2L788.6,374.7zM796.5,374.2L804.4,373.7L803.3,370.9L795.4,371.4zM811.2,370.4L819.1,369.9L818.0,367.1L810.0,367.6zM844.2,371.2L852.3,370.7L851.1,367.9L843.1,368.4zM864.9,381.4L872.9,380.9L871.8,378.1L863.7,378.6z"/>
<path color="#331d22" d="M787.5,371.9L795.4,371.4L794.2,368.6L786.4,369.1zM801.0,365.3L808.9,364.8L807.8,362.0L799.9,362.5zM850.0,365.1L858.0,364.6L856.9,361.8L848.9,362.3zM859.2,367.4L867.3,366.9L866.1,364.1L858.0,364.6z"/>
<path color="#a12e38" d="M801.0,385.4L808.9,384.9L807.8,382.1L799.9,382.6zM807.8,382.1L815.7,381.6L814.6,378.8L806.7,379.3zM814.6,378.8L822.5,378.3L821.4,375.5L813.5,376.0zM823.7,381.1L831.6,380.6L829.4,375.0L821.4,375.5zM832.8,383.4L840.8,382.9L838.5,377.3L830.5,377.8z"/>
<path color="#972b3a" d="M798.8,379.8L806.7,379.3L805.5,376.5L797.6,377.0zM813.5,376.0L821.4,375.5L820.3,372.7L812.3,373.2zM821.4,375.5L829.4,375.0L828.2,372.2L820.3,372.7zM838.5,377.3L846.5,376.8L845.4,374.0L837.3,374.5zM848.8,382.4L856.8,381.9L855.7,379.1L847.6,379.6z"/>
<path color="#4e232d" d="M795.4,371.4L803.3,370.9L802.1,368.1L794.2,368.6zM872.9,380.9L881.0,380.4L879.9,377.6L871.8,378.1z"/>
<path color="#2f1c20" d="M794.2,368.6L802.1,368.1L801.0,365.3L793.1,365.8zM832.8,363.3L840.8,362.8L839.7,360.0L831.7,360.5zM881.0,380.4L889.2,379.9L888.0,377.1L879.9,377.6z"/>
<path color="#3d3c78" d="M785.7,347.6L793.6,347.1L789.7,337.4L781.8,337.9zM793.6,347.1L801.5,346.6L797.6,336.9L789.7,337.4zM801.5,346.6L809.5,346.1L805.6,336.4L797.6,336.9zM843.4,348.9L851.5,348.4L849.5,343.6L841.5,344.1zM851.5,348.4L859.6,347.9L857.6,343.1L849.5,343.6zM898.7,362.1L906.9,361.5L905.7,358.7L897.5,359.3zM909.1,367.1L917.4,366.6L916.2,363.8L908.0,364.3zM921.9,377.8L930.1,377.3L929.0,374.5L920.8,375.0z"/>
<path color="#a32f37" d="M808.9,384.9L816.9,384.4L815.7,381.6L807.8,382.1zM816.9,384.4L824.8,383.9L822.5,378.3L814.6,378.8zM824.8,383.9L832.8,383.4L831.6,380.6L823.7,381.1z"/>
<path color="#49222b" d="M802.1,368.1L810.0,367.6L808.9,364.8L801.0,365.3zM833.9,366.1L842.0,365.6L840.8,362.8L832.8,363.3zM851.1,367.9L859.2,367.4L858.0,364.6L850.0,365.1zM871.8,378.1L879.9,377.6L878.8,374.8L870.7,375.3z"/>
<path color="#1c1b1f" d="M798.6,359.4L806.5,358.9L805.0,355.2L797.1,355.7zM830.4,357.4L838.4,356.9L836.9,353.2L828.9,353.7zM865.0,361.3L873.1,360.8L872.0,358.0L863.9,358.5zM875.4,366.4L883.5,365.9L882.4,363.1L874.2,363.6zM885.8,371.5L893.9,371.0L892.8,368.2L884.6,368.7z"/>
<path color="#3b1f25" d="M808.9,364.8L816.9,364.3L815.7,361.5L807.8,362.0z"/>
<path color="#231a1c" d="M807.8,362.0L815.7,361.5L814.5,358.4L806.5,358.9z"/>
<path color="#1b1b1d" d="M806.5,358.9L814.5,358.4L813.0,354.7L805.0,355.2zM847.7,359.5L855.8,359.0L854.5,355.9L846.5,356.4z"/>
<path color="#8d293b" d="M820.3,372.7L828.2,372.2L827.1,369.4L819.1,369.9zM837.3,374.5L845.4,374.0L844.2,371.2L836.2,371.7zM846.5,376.8L854.5,376.3L853.4,373.5L845.4,374.0z"/>
<path color="#732739" d="M819.1,369.9L827.1,369.4L826.0,366.6L818.0,367.1z"/>
<path color="#572431" d="M818.0,367.1L826.0,366.6L824.8,363.8L816.9,364.3zM843.1,368.4L851.1,367.9L850.0,365.1L842.0,365.6z"/>
<path color="#1b1a1a" d="M814.5,358.4L822.4,357.9L820.9,354.2L813.0,354.7zM866.1,364.1L874.2,363.6L873.1,360.8L865.0,361.3zM876.5,369.2L884.6,368.7L883.5,365.9L875.4,366.4zM888.0,377.1L896.2,376.6L895.0,373.8L886.9,374.3z"/>
<path color="#2c1b1f" d="M823.7,361.0L831.7,360.5L830.4,357.4L822.4,357.9zM840.8,362.8L848.9,362.3L847.7,359.5L839.7,360.0zM879.9,377.6L888.0,377.1L886.9,374.3L878.8,374.8z"/>
<path color="#1c1a1a" d="M822.4,357.9L830.4,357.4L828.9,353.7L820.9,354.2zM839.7,360.0L847.7,359.5L846.5,356.4L838.4,356.9zM856.9,361.8L865.0,361.3L863.9,358.5L855.8,359.0zM889.2,379.9L897.3,379.4L896.2,376.6L888.0,377.1z"/>
<path color="#7d283b" d="M836.2,371.7L844.2,371.2L843.1,368.4L835.1,368.9z"/>
<path color="#432129" d="M842.0,365.6L850.0,365.1L848.9,362.3L840.8,362.8zM860.3,370.2L868.4,369.7L867.3,366.9L859.2,367.4zM870.7,375.3L878.8,374.8L877.6,372.0L869.5,372.5z"/>
<path color="#5c2533" d="M852.3,370.7L860.3,370.2L859.2,367.4L851.1,367.9z"/>
<path color="#612634" d="M862.6,375.8L870.7,375.3L869.5,372.5L861.5,373.0z"/>
<path color="#261a1c" d="M858.0,364.6L866.1,364.1L865.0,361.3L856.9,361.8zM878.8,374.8L886.9,374.3L885.8,371.5L877.6,372.0z"/>
<path color="#3d52a6" d="M930.1,377.3L938.4,376.8L937.3,374.0L929.0,374.5zM933.9,365.6L942.2,365.1L941.0,362.3L932.7,362.8zM947.1,356.1L955.4,355.6L954.3,352.8L945.9,353.3zM1047.5,346.9L1056.1,346.4L1054.8,343.3L1046.2,343.8z"/>
<path color="#3e4ea1" d="M929.0,374.5L937.3,374.0L933.9,365.6L925.6,366.1zM932.7,362.8L941.0,362.3L939.9,359.5L931.6,360.0zM939.9,359.5L948.2,358.9L945.9,353.3L937.6,353.9zM945.9,353.3L954.3,352.8L953.0,349.7L944.7,350.2zM953.0,349.7L961.4,349.2L959.9,345.5L951.5,346.0zM959.9,345.5L968.2,345.0L966.7,341.2L958.3,341.7zM966.7,341.2L975.1,340.6L973.2,335.8L964.8,336.4zM975.1,340.6L983.5,340.1L981.6,335.3L973.2,335.8zM983.5,340.1L992.0,339.6L990.0,334.8L981.6,335.3zM992.0,339.6L1000.5,339.0L998.5,334.2L990.0,334.8zM1000.5,339.0L1009.0,338.5L1007.0,333.7L998.5,334.2zM1009.0,338.5L1017.5,338.0L1015.5,333.2L1007.0,333.7zM1017.5,338.0L1026.0,337.4L1024.1,332.6L1015.5,333.2zM1026.0,337.4L1034.6,336.9L1032.6,332.1L1024.1,332.6zM1036.1,340.7L1044.7,340.1L1043.2,336.3L1034.6,336.9zM1046.2,343.8L1054.8,343.3L1053.3,339.6L1044.7,340.1zM1057.2,349.2L1065.8,348.7L1064.7,345.9L1056.1,346.4zM1068.1,354.3L1080.0,353.5L1078.9,350.7L1067.0,351.5zM1081.2,356.3L1097.5,355.3L1096.3,352.5L1080.0,353.5zM1100.9,363.7L1120.6,362.4L1119.4,359.6L1099.7,360.9z"/>
<path color="#3f4b9c" d="M925.6,366.1L933.9,365.6L932.7,362.8L924.5,363.3z"/>
<path color="#3362b3" d="M938.4,376.8L946.7,376.3L945.6,373.5L937.3,374.0zM942.2,365.1L950.5,364.5L949.3,361.7L941.0,362.3zM955.4,355.6L963.8,355.1L962.6,352.3L954.3,352.8zM976.7,344.4L985.1,343.9L983.5,340.1L975.1,340.6zM985.1,343.9L993.5,343.4L992.0,339.6L983.5,340.1zM993.5,343.4L1002.0,342.8L1000.5,339.0L992.0,339.6zM1002.0,342.8L1010.5,342.3L1009.0,338.5L1000.5,339.0zM1010.5,342.3L1019.0,341.8L1017.5,338.0L1009.0,338.5zM1019.0,341.8L1027.5,341.2L1026.0,337.4L1017.5,338.0zM1059.5,354.8L1068.1,354.3L1067.0,351.5L1058.3,352.0zM1069.2,357.1L1081.2,356.3L1080.0,353.5L1068.1,354.3z"/>
<path color="#365eb0" d="M937.3,374.0L945.6,373.5L943.3,367.9L935.0,368.4zM948.2,358.9L956.5,358.4L955.4,355.6L947.1,356.1zM1048.6,349.7L1057.2,349.2L1056.1,346.4L1047.5,346.9zM1083.4,361.9L1099.7,360.9L1098.6,358.1L1082.3,359.1z"/>
<path color="#385aad" d="M935.0,368.4L943.3,367.9L942.2,365.1L933.9,365.6zM1027.5,341.2L1036.1,340.7L1034.6,336.9L1026.0,337.4zM1037.6,344.4L1046.2,343.8L1044.7,340.1L1036.1,340.7zM1102.0,366.5L1121.7,365.2L1120.6,362.4L1100.9,363.7z"/>
<path color="#3174b5" d="M946.7,376.3L955.0,375.7L953.9,372.9L945.6,373.5zM995.0,347.1L1003.5,346.5L1002.0,342.8L993.5,343.4z"/>
<path color="#3070b5" d="M945.6,373.5L953.9,372.9L952.7,370.1L944.4,370.7zM950.5,364.5L958.8,364.0L957.7,361.2L949.3,361.7zM963.8,355.1L972.1,354.6L971.0,351.8L962.6,352.3zM971.0,351.8L979.4,351.2L978.1,348.1L969.7,348.7zM978.1,348.1L986.6,347.6L985.1,343.9L976.7,344.4zM986.6,347.6L995.0,347.1L993.5,343.4L985.1,343.9zM1003.5,346.5L1012.0,346.0L1010.5,342.3L1002.0,342.8zM1012.0,346.0L1020.5,345.5L1019.0,341.8L1010.5,342.3zM1020.5,345.5L1029.0,344.9L1027.5,341.2L1019.0,341.8zM1030.3,348.0L1038.9,347.5L1037.6,344.4L1029.0,344.9zM1071.5,362.7L1083.4,361.9L1082.3,359.1L1070.4,359.9z"/>
<path color="#2f6cb5" d="M944.4,370.7L952.7,370.1L951.6,367.3L943.3,367.9zM956.5,358.4L964.9,357.9L963.8,355.1L955.4,355.6zM1040.0,350.3L1048.6,349.7L1047.5,346.9L1038.9,347.5zM1050.9,355.3L1059.5,354.8L1058.3,352.0L1049.7,352.5z"/>
<path color="#3068b4" d="M943.3,367.9L951.6,367.3L950.5,364.5L942.2,365.1zM949.3,361.7L957.7,361.2L956.5,358.4L948.2,358.9zM1060.6,357.6L1069.2,357.1L1068.1,354.3L1059.5,354.8zM1070.4,359.9L1082.3,359.1L1081.2,356.3L1069.2,357.1zM1085.7,367.5L1102.0,366.5L1100.9,363.7L1084.6,364.7z"/>
<path color="#3b56aa" d="M941.0,362.3L949.3,361.7L948.2,358.9L939.9,359.5zM954.3,352.8L962.6,352.3L961.4,349.2L953.0,349.7zM961.4,349.2L969.7,348.7L968.2,345.0L959.9,345.5zM968.2,345.0L976.7,344.4L975.1,340.6L966.7,341.2zM1058.3,352.0L1067.0,351.5L1065.8,348.7L1057.2,349.2zM1082.3,359.1L1098.6,358.1L1097.5,355.3L1081.2,356.3z"/>
<path color="#4086b3" d="M955.0,375.7L963.3,375.2L962.2,372.4L953.9,372.9zM966.0,360.7L974.4,360.2L973.3,357.4L964.9,357.9zM1032.6,353.6L1041.1,353.1L1040.0,350.3L1031.4,350.8zM1053.1,360.9L1061.7,360.4L1060.6,357.6L1052.0,358.1zM1064.0,366.0L1072.6,365.5L1071.5,362.7L1062.9,363.2z"/>
<path color="#3c82b3" d="M953.9,372.9L962.2,372.4L961.1,369.6L952.7,370.1zM958.8,364.0L967.2,363.5L966.0,360.7L957.7,361.2zM987.8,350.7L996.3,350.2L995.0,347.1L986.6,347.6zM996.3,350.2L1004.7,349.6L1003.5,346.5L995.0,347.1zM1004.7,349.6L1013.2,349.1L1012.0,346.0L1003.5,346.5zM1013.2,349.1L1021.8,348.6L1020.5,345.5L1012.0,346.0zM1062.9,363.2L1071.5,362.7L1070.4,359.9L1061.7,360.4z"/>
<path color="#397fb3" d="M952.7,370.1L961.1,369.6L959.9,366.8L951.6,367.3zM1021.8,348.6L1030.3,348.0L1029.0,344.9L1020.5,345.5zM1042.3,355.9L1050.9,355.3L1049.7,352.5L1041.1,353.1zM1073.8,368.3L1085.7,367.5L1084.6,364.7L1072.6,365.5z"/>
<path color="#367bb4" d="M951.6,367.3L959.9,366.8L958.8,364.0L950.5,364.5zM964.9,357.9L973.3,357.4L972.1,354.6L963.8,355.1zM972.1,354.6L980.5,354.0L979.4,351.2L971.0,351.8zM979.4,351.2L987.8,350.7L986.6,347.6L978.1,348.1zM1031.4,350.8L1040.0,350.3L1038.9,347.5L1030.3,348.0z"/>
<path color="#5898b2" d="M963.3,375.2L971.7,374.7L970.6,371.9L962.2,372.4zM968.3,366.3L976.7,365.8L975.5,363.0L967.2,363.5zM1015.5,354.7L1024.0,354.2L1022.9,351.4L1014.4,351.9zM1034.8,359.2L1043.4,358.7L1042.3,355.9L1033.7,356.4z"/>
<path color="#5395b2" d="M962.2,372.4L970.6,371.9L969.4,369.1L961.1,369.6zM974.4,360.2L982.8,359.6L981.7,356.8L973.3,357.4zM981.7,356.8L990.1,356.3L989.0,353.5L980.5,354.0zM1055.4,366.5L1064.0,366.0L1062.9,363.2L1054.3,363.7z"/>
<path color="#4f92b2" d="M961.1,369.6L969.4,369.1L968.3,366.3L959.9,366.8zM967.2,363.5L975.5,363.0L974.4,360.2L966.0,360.7zM997.4,353.0L1005.9,352.4L1004.7,349.6L996.3,350.2zM1024.0,354.2L1032.6,353.6L1031.4,350.8L1022.9,351.4zM1044.5,361.5L1053.1,360.9L1052.0,358.1L1043.4,358.7z"/>
<path color="#4489b3" d="M959.9,366.8L968.3,366.3L967.2,363.5L958.8,364.0zM973.3,357.4L981.7,356.8L980.5,354.0L972.1,354.6zM980.5,354.0L989.0,353.5L987.8,350.7L979.4,351.2zM1022.9,351.4L1031.4,350.8L1030.3,348.0L1021.8,348.6zM1043.4,358.7L1052.0,358.1L1050.9,355.3L1042.3,355.9z"/>
<path color="#3378b4" d="M957.7,361.2L966.0,360.7L964.9,357.9L956.5,358.4zM1041.1,353.1L1049.7,352.5L1048.6,349.7L1040.0,350.3zM1052.0,358.1L1060.6,357.6L1059.5,354.8L1050.9,355.3zM1061.7,360.4L1070.4,359.9L1069.2,357.1L1060.6,357.6zM1072.6,365.5L1084.6,364.7L1083.4,361.9L1071.5,362.7z"/>
<path color="#73a8b4" d="M971.7,374.7L980.1,374.2L978.9,371.4L970.6,371.9zM976.7,365.8L985.1,365.2L983.9,362.4L975.5,363.0zM983.9,362.4L992.4,361.9L991.2,359.1L982.8,359.6zM999.7,358.6L1008.2,358.0L1007.0,355.2L998.5,355.8zM1008.2,358.0L1016.6,357.5L1015.5,354.7L1007.0,355.2zM1026.3,359.8L1034.8,359.2L1033.7,356.4L1025.2,357.0zM1046.8,367.1L1055.4,366.5L1054.3,363.7L1045.7,364.3z"/>
<path color="#6ea4b4" d="M970.6,371.9L978.9,371.4L977.8,368.6L969.4,369.1zM991.2,359.1L999.7,358.6L998.5,355.8L990.1,356.3zM1016.6,357.5L1025.2,357.0L1024.0,354.2L1015.5,354.7zM1036.0,362.0L1044.5,361.5L1043.4,358.7L1034.8,359.2z"/>
<path color="#68a1b3" d="M969.4,369.1L977.8,368.6L976.7,365.8L968.3,366.3z"/>
<path color="#3166b4" d="M962.6,352.3L971.0,351.8L969.7,348.7L961.4,349.2zM969.7,348.7L978.1,348.1L976.7,344.4L968.2,345.0zM1029.0,344.9L1037.6,344.4L1036.1,340.7L1027.5,341.2zM1038.9,347.5L1047.5,346.9L1046.2,343.8L1037.6,344.4zM1049.7,352.5L1058.3,352.0L1057.2,349.2L1048.6,349.7zM1084.6,364.7L1100.9,363.7L1099.7,360.9L1083.4,361.9z"/>
<path color="#80afb6" d="M980.1,374.2L988.5,373.6L987.3,370.8L978.9,371.4zM1017.8,360.3L1026.3,359.8L1025.2,357.0L1016.6,357.5zM1037.1,364.8L1045.7,364.3L1044.5,361.5L1036.0,362.0zM1047.9,369.9L1056.5,369.3L1055.4,366.5L1046.8,367.1z"/>
<path color="#7aacb5" d="M978.9,371.4L987.3,370.8L986.2,368.0L977.8,368.6zM985.1,365.2L993.5,364.7L992.4,361.9L983.9,362.4zM992.4,361.9L1000.8,361.4L999.7,358.6L991.2,359.1z"/>
<path color="#75a9b4" d="M977.8,368.6L986.2,368.0L985.1,365.2L976.7,365.8z"/>
<path color="#639eb3" d="M975.5,363.0L983.9,362.4L982.8,359.6L974.4,360.2zM982.8,359.6L991.2,359.1L990.1,356.3L981.7,356.8zM1045.7,364.3L1054.3,363.7L1053.1,360.9L1044.5,361.5zM1056.5,369.3L1065.1,368.8L1064.0,366.0L1055.4,366.5z"/>
<path color="#8eb9b9" d="M988.5,373.6L996.9,373.1L995.8,370.3L987.3,370.8zM996.9,373.1L1005.4,372.6L1001.9,364.2L993.5,364.7zM1005.4,372.6L1013.8,372.0L1009.3,360.8L1000.8,361.4zM1013.8,372.0L1022.3,371.5L1017.8,360.3L1009.3,360.8zM1022.3,371.5L1030.8,371.0L1027.4,362.6L1018.9,363.1zM1030.8,371.0L1039.4,370.4L1036.0,362.0L1027.4,362.6zM1039.4,370.4L1047.9,369.9L1046.8,367.1L1038.2,367.6z"/>
<path color="#8ab6b8" d="M987.3,370.8L995.8,370.3L994.6,367.5L986.2,368.0zM993.5,364.7L1001.9,364.2L1000.8,361.4L992.4,361.9zM1018.9,363.1L1027.4,362.6L1026.3,359.8L1017.8,360.3zM1038.2,367.6L1046.8,367.1L1045.7,364.3L1037.1,364.8z"/>
<path color="#85b3b7" d="M986.2,368.0L994.6,367.5L993.5,364.7L985.1,365.2zM1000.8,361.4L1009.3,360.8L1008.2,358.0L999.7,358.6zM1009.3,360.8L1017.8,360.3L1016.6,357.5L1008.2,358.0zM1027.4,362.6L1036.0,362.0L1034.8,359.2L1026.3,359.8z"/>
<path color="#5d9bb3" d="M990.1,356.3L998.5,355.8L997.4,353.0L989.0,353.5zM998.5,355.8L1007.0,355.2L1005.9,352.4L997.4,353.0zM1007.0,355.2L1015.5,354.7L1014.4,351.9L1005.9,352.4zM1025.2,357.0L1033.7,356.4L1032.6,353.6L1024.0,354.2z"/>
<path color="#4a8eb2" d="M989.0,353.5L997.4,353.0L996.3,350.2L987.8,350.7zM1005.9,352.4L1014.4,351.9L1013.2,349.1L1004.7,349.6zM1014.4,351.9L1022.9,351.4L1021.8,348.6L1013.2,349.1zM1033.7,356.4L1042.3,355.9L1041.1,353.1L1032.6,353.6z"/>
<path color="#468bb3" d="M1054.3,363.7L1062.9,363.2L1061.7,360.4L1053.1,360.9zM1065.1,368.8L1073.8,368.3L1072.6,365.5L1064.0,366.0z"/>
<path color="#2e2e5f" d="M684.2,392.8L715.2,390.8L715.2,398.8L684.2,400.8zM684.2,400.8L715.2,398.8L715.2,410.8L684.2,412.8zM684.2,412.8L715.2,410.8L715.2,422.8L684.2,424.8zM684.2,424.8L715.2,422.8L715.2,430.8L684.2,432.8zM921.9,409.8L930.1,409.3L930.1,417.3L921.9,417.8zM921.9,417.8L930.1,417.3L930.1,423.3L921.9,423.8z"/>
<path color="#2f3064" d="M684.2,432.8L715.2,430.8L715.2,436.8L684.2,438.8z"/>
<path color="#262542" d="M715.2,390.8L736.5,389.5L736.5,397.5L715.2,398.8zM736.5,429.5L751.2,428.6L751.2,434.6L736.5,435.5zM905.5,418.9L913.7,418.3L913.7,424.3L905.5,424.9zM913.7,386.3L921.9,385.8L921.9,397.8L913.7,398.3zM913.7,398.3L921.9,397.8L921.9,409.8L913.7,410.3z"/>
<path color="#282647" d="M715.2,398.8L736.5,397.5L736.5,409.5L715.2,410.8zM715.2,410.8L736.5,409.5L736.5,421.5L715.2,422.8zM913.7,410.3L921.9,409.8L921.9,417.8L913.7,418.3z"/>
<path color="#29284b" d="M715.2,422.8L736.5,421.5L736.5,429.5L715.2,430.8z"/>
<path color="#2c2b55" d="M715.2,430.8L736.5,429.5L736.5,435.5L715.2,436.8z"/>
<path color="#1d1d2d" d="M736.5,389.5L751.2,388.6L751.2,396.6L736.5,397.5zM736.5,397.5L751.2,396.6L751.2,408.6L736.5,409.5zM905.5,378.9L913.7,378.3L913.7,386.3L905.5,386.9zM905.5,386.9L913.7,386.3L913.7,398.3L905.5,398.9z"/>
<path color="#1f1e30" d="M736.5,409.5L751.2,408.6L751.2,420.6L736.5,421.5zM751.2,428.6L761.9,427.9L761.9,433.9L751.2,434.6zM897.3,419.4L905.5,418.9L905.5,424.9L897.3,425.4zM905.5,398.9L913.7,398.3L913.7,410.3L905.5,410.9z"/>
<path color="#222138" d="M736.5,421.5L751.2,420.6L751.2,428.6L736.5,429.5zM905.5,410.9L913.7,410.3L913.7,418.3L905.5,418.9z"/>
<path color="#151417" d="M751.2,388.6L761.9,387.9L761.9,395.9L751.2,396.6zM889.2,411.9L897.3,411.4L897.3,419.4L889.2,419.9z"/>
<path color="#151519" d="M751.2,396.6L761.9,395.9L761.9,407.9L751.2,408.6zM881.0,420.4L889.2,419.9L889.2,425.9L881.0,426.4zM897.3,379.4L905.5,378.9L905.5,386.9L897.3,387.4z"/>
<path color="#16161c" d="M751.2,408.6L761.9,407.9L761.9,419.9L751.2,420.6z"/>
<path color="#181821" d="M751.2,420.6L761.9,419.9L761.9,427.9L751.2,428.6z"/>
<path color="#1c1415" d="M761.9,387.9L769.7,387.4L769.7,395.4L761.9,395.9zM864.9,421.4L872.9,420.9L872.9,426.9L864.9,427.4z"/>
<path color="#191314" d="M761.9,395.9L769.7,395.4L769.7,407.4L761.9,407.9zM881.0,412.4L889.2,411.9L889.2,419.9L881.0,420.4zM889.2,379.9L897.3,379.4L897.3,387.4L889.2,387.9z"/>
<path color="#161314" d="M761.9,407.9L769.7,407.4L769.7,419.4L761.9,419.9zM872.9,420.9L881.0,420.4L881.0,426.4L872.9,426.9zM889.2,387.9L897.3,387.4L897.3,399.4L889.2,399.9z"/>
<path color="#141415" d="M761.9,419.9L769.7,419.4L769.7,427.4L761.9,427.9zM769.7,427.4L777.5,426.9L777.5,432.9L769.7,433.4z"/>
<path color="#17171e" d="M761.9,427.9L769.7,427.4L769.7,433.4L761.9,433.9zM897.3,399.4L905.5,398.9L905.5,410.9L897.3,411.4z"/>
<path color="#3a1a22" d="M769.7,387.4L777.5,386.9L777.5,394.9L769.7,395.4z"/>
<path color="#34191f" d="M769.7,395.4L777.5,394.9L777.5,406.9L769.7,407.4zM777.5,418.9L785.3,418.4L785.3,426.4L777.5,426.9z"/>
<path color="#2c171c" d="M769.7,407.4L777.5,406.9L777.5,418.9L769.7,419.4zM793.2,425.9L801.0,425.4L801.0,431.4L793.2,431.9zM840.8,422.9L848.8,422.4L848.8,428.4L840.8,428.9z"/>
<path color="#1f1416" d="M769.7,419.4L777.5,418.9L777.5,426.9L769.7,427.4z"/>
<path color="#621e2c" d="M777.5,386.9L785.3,386.4L785.3,394.4L777.5,394.9z"/>
<path color="#561d2b" d="M777.5,394.9L785.3,394.4L785.3,406.4L777.5,406.9zM801.0,417.4L808.9,416.9L808.9,424.9L801.0,425.4zM832.8,415.4L840.8,414.9L840.8,422.9L832.8,423.4z"/>
<path color="#491c27" d="M777.5,406.9L785.3,406.4L785.3,418.4L777.5,418.9zM785.3,418.4L793.2,417.9L793.2,425.9L785.3,426.4zM856.8,413.9L864.9,413.4L864.9,421.4L856.8,421.9zM872.9,380.9L881.0,380.4L881.0,388.4L872.9,388.9z"/>
<path color="#1a1315" d="M777.5,426.9L785.3,426.4L785.3,432.4L777.5,432.9z"/>
<path color="#7a2329" d="M785.3,386.4L793.2,385.9L793.2,393.9L785.3,394.4zM793.2,393.9L801.0,393.4L801.0,405.4L793.2,405.9zM840.8,390.9L848.8,390.4L848.8,402.4L840.8,402.9zM856.8,381.9L864.9,381.4L864.9,389.4L856.8,389.9z"/>
<path color="#6d1f2c" d="M785.3,394.4L793.2,393.9L793.2,405.9L785.3,406.4zM793.2,405.9L801.0,405.4L801.0,417.4L793.2,417.9zM840.8,402.9L848.8,402.4L848.8,414.4L840.8,414.9zM856.8,389.9L864.9,389.4L864.9,401.4L856.8,401.9z"/>
<path color="#5e1e2c" d="M785.3,406.4L793.2,405.9L793.2,417.9L785.3,418.4zM856.8,401.9L864.9,401.4L864.9,413.4L856.8,413.9z"/>
<path color="#231518" d="M785.3,426.4L793.2,425.9L793.2,431.9L785.3,432.4zM856.8,421.9L864.9,421.4L864.9,427.4L856.8,427.9z"/>
<path color="#862b25" d="M793.2,385.9L801.0,385.4L801.0,393.4L793.2,393.9zM840.8,382.9L848.8,382.4L848.8,390.4L840.8,390.9z"/>
<path color="#541d2a" d="M793.2,417.9L801.0,417.4L801.0,425.4L793.2,425.9zM840.8,414.9L848.8,414.4L848.8,422.4L840.8,422.9z"/>
<path color="#882e24" d="M801.0,385.4L808.9,384.9L808.9,392.9L801.0,393.4zM832.8,383.4L840.8,382.9L840.8,390.9L832.8,391.4z"/>
<path color="#7d2528" d="M801.0,393.4L808.9,392.9L808.9,404.9L801.0,405.4zM832.8,391.4L840.8,390.9L840.8,402.9L832.8,403.4z"/>
<path color="#71202b" d="M801.0,405.4L808.9,404.9L808.9,416.9L801.0,417.4zM832.8,403.4L840.8,402.9L840.8,414.9L832.8,415.4z"/>
<path color="#2f181d" d="M801.0,425.4L808.9,424.9L808.9,430.9L801.0,431.4zM808.9,424.9L816.9,424.4L816.9,430.4L808.9,430.9zM816.9,424.4L824.8,423.9L824.8,429.9L816.9,430.4zM824.8,423.9L832.8,423.4L832.8,429.4L824.8,429.9zM832.8,423.4L840.8,422.9L840.8,428.9L832.8,429.4zM881.0,380.4L889.2,379.9L889.2,387.9L881.0,388.4z"/>
<path color="#8b3123" d="M808.9,384.9L816.9,384.4L816.9,392.4L808.9,392.9zM816.9,384.4L824.8,383.9L824.8,391.9L816.9,392.4zM824.8,383.9L832.8,383.4L832.8,391.4L824.8,391.9z"/>
<path color="#802727" d="M808.9,392.9L816.9,392.4L816.9,404.4L808.9,404.9zM816.9,392.4L824.8,391.9L824.8,403.9L816.9,404.4zM824.8,391.9L832.8,391.4L832.8,403.4L824.8,403.9z"/>
<path color="#75212a" d="M808.9,404.9L816.9,404.4L816.9,416.4L808.9,416.9zM816.9,404.4L824.8,403.9L824.8,415.9L816.9,416.4zM824.8,403.9L832.8,403.4L832.8,415.4L824.8,415.9z"/>
<path color="#5a1e2b" d="M808.9,416.9L816.9,416.4L816.9,424.4L808.9,424.9zM816.9,416.4L824.8,415.9L824.8,423.9L816.9,424.4zM824.8,415.9L832.8,415.4L832.8,423.4L824.8,423.9zM864.9,389.4L872.9,388.9L872.9,400.9L864.9,401.4z"/>
<path color="#832926" d="M848.8,382.4L856.8,381.9L856.8,389.9L848.8,390.4z"/>
<path color="#782229" d="M848.8,390.4L856.8,389.9L856.8,401.9L848.8,402.4z"/>
<path color="#6a1f2c" d="M848.8,402.4L856.8,401.9L856.8,413.9L848.8,414.4z"/>
<path color="#501d29" d="M848.8,414.4L856.8,413.9L856.8,421.9L848.8,422.4z"/>
<path color="#29161a" d="M848.8,422.4L856.8,421.9L856.8,427.9L848.8,428.4z"/>
<path color="#661e2d" d="M864.9,381.4L872.9,380.9L872.9,388.9L864.9,389.4z"/>
<path color="#4c1d28" d="M864.9,401.4L872.9,400.9L872.9,412.9L864.9,413.4z"/>
<path color="#371920" d="M864.9,413.4L872.9,412.9L872.9,420.9L864.9,421.4zM872.9,400.9L881.0,400.4L881.0,412.4L872.9,412.9z"/>
<path color="#411b25" d="M872.9,388.9L881.0,388.4L881.0,400.4L872.9,400.9z"/>
<path color="#261619" d="M872.9,412.9L881.0,412.4L881.0,420.4L872.9,420.9zM881.0,388.4L889.2,387.9L889.2,399.9L881.0,400.4z"/>
<path color="#211517" d="M881.0,400.4L889.2,399.9L889.2,411.9L881.0,412.4z"/>
<path color="#141414" d="M889.2,399.9L897.3,399.4L897.3,411.4L889.2,411.9z"/>
<path color="#191923" d="M889.2,419.9L897.3,419.4L897.3,425.4L889.2,425.9zM897.3,411.4L905.5,410.9L905.5,418.9L897.3,419.4z"/>
<path color="#16151b" d="M897.3,387.4L905.5,386.9L905.5,398.9L897.3,399.4z"/>
<path color="#25233e" d="M913.7,378.3L921.9,377.8L921.9,385.8L913.7,386.3z"/>
<path color="#2b2950" d="M913.7,418.3L921.9,417.8L921.9,423.8L913.7,424.3z"/>
<path color="#2d2d5a" d="M921.9,377.8L930.1,377.3L930.1,385.3L921.9,385.8zM921.9,385.8L930.1,385.3L930.1,397.3L921.9,397.8zM921.9,397.8L930.1,397.3L930.1,409.3L921.9,409.8z"/>
<path color="#2d3d7c" d="M930.1,377.3L938.4,376.8L938.4,422.8L930.1,423.3z"/>
<path color="#264985" d="M938.4,376.8L946.7,376.3L946.7,422.3L938.4,422.8z"/>
<path color="#245787" d="M946.7,376.3L955.0,375.7L955.0,421.7L946.7,422.3z"/>
<path color="#306486" d="M955.0,375.7L963.3,375.2L963.3,421.2L955.0,421.7z"/>
<path color="#427285" d="M963.3,375.2L971.7,374.7L971.7,420.7L963.3,421.2z"/>
<path color="#567d87" d="M971.7,374.7L980.1,374.2L980.1,420.2L971.7,420.7z"/>
<path color="#5f8388" d="M980.1,374.2L988.5,373.6L988.5,419.6L980.1,420.2zM1047.9,369.9L1056.5,369.3L1056.5,415.3L1047.9,415.9z"/>
<path color="#6a8a8a" d="M988.5,373.6L996.9,373.1L996.9,419.1L988.5,419.6zM996.9,373.1L1005.4,372.6L1005.4,418.6L996.9,419.1zM1005.4,372.6L1013.8,372.0L1013.8,418.0L1005.4,418.6zM1013.8,372.0L1022.3,371.5L1022.3,417.5L1013.8,418.0zM1022.3,371.5L1030.8,371.0L1030.8,417.0L1022.3,417.5zM1030.8,371.0L1039.4,370.4L1039.4,416.4L1030.8,417.0zM1039.4,370.4L1047.9,369.9L1047.9,415.9L1039.4,416.4z"/>
<path color="#4a7686" d="M1056.5,369.3L1065.1,368.8L1065.1,414.8L1056.5,415.3z"/>
<path color="#346885" d="M1065.1,368.8L1073.8,368.3L1073.8,414.3L1065.1,414.8z"/>
<path color="#2a5f86" d="M1073.8,368.3L1085.7,367.5L1085.7,413.5L1073.8,414.3z"/>
<path color="#244e87" d="M1085.7,367.5L1102.0,366.5L1102.0,412.5L1085.7,413.5z"/>
<path color="#2a4382" d="M1102.0,366.5L1121.7,365.2L1121.7,411.2L1102.0,412.5z"/>
<path color="#262542" d="M751.2,434.6L761.9,433.9L761.9,438.9L751.2,439.6zM872.9,431.9L881.0,431.4L881.0,436.9L872.9,437.4z"/>
<path color="#222138" d="M761.9,433.9L769.7,433.4L769.7,438.4L761.9,438.9zM793.2,436.9L801.0,436.4L801.0,441.9L793.2,442.4zM801.0,436.4L808.9,435.9L808.9,441.4L801.0,441.9zM808.9,435.9L816.9,435.4L816.9,440.9L808.9,441.4zM816.9,435.4L824.8,434.9L824.8,440.4L816.9,440.9zM824.8,434.9L832.8,434.4L832.8,439.9L824.8,440.4zM832.8,434.4L840.8,433.9L840.8,439.4L832.8,439.9zM840.8,433.9L848.8,433.4L848.8,438.9L840.8,439.4zM848.8,433.4L856.8,432.9L856.8,438.4L848.8,438.9z"/>
<path color="#1c1b29" d="M769.7,433.4L777.5,432.9L777.5,437.9L769.7,438.4z"/>
<path color="#282647" d="M769.7,438.4L777.5,437.9L777.5,443.4L769.7,443.9zM897.3,425.4L905.5,424.9L905.5,429.9L897.3,430.4z"/>
<path color="#17171e" d="M777.5,432.9L785.3,432.4L785.3,437.4L777.5,437.9zM864.9,427.4L872.9,426.9L872.9,431.9L864.9,432.4z"/>
<path color="#25233e" d="M777.5,437.9L785.3,437.4L785.3,442.9L777.5,443.4zM864.9,432.4L872.9,431.9L872.9,437.4L864.9,437.9z"/>
<path color="#16151b" d="M785.3,432.4L793.2,431.9L793.2,436.9L785.3,437.4zM856.8,427.9L864.9,427.4L864.9,432.4L856.8,432.9z"/>
<path color="#24223c" d="M785.3,437.4L793.2,436.9L793.2,442.4L785.3,442.9zM856.8,432.9L864.9,432.4L864.9,437.9L856.8,438.4zM889.2,425.9L897.3,425.4L897.3,430.4L889.2,430.9z"/>
<path color="#151417" d="M793.2,431.9L801.0,431.4L801.0,436.4L793.2,436.9zM801.0,431.4L808.9,430.9L808.9,435.9L801.0,436.4zM832.8,429.4L840.8,428.9L840.8,433.9L832.8,434.4zM840.8,428.9L848.8,428.4L848.8,433.4L840.8,433.9zM848.8,428.4L856.8,427.9L856.8,432.9L848.8,433.4z"/>
<path color="#2b2950" d="M801.0,441.9L808.9,441.4L808.9,446.9L801.0,447.4zM808.9,441.4L816.9,440.9L816.9,446.4L808.9,446.9zM816.9,440.9L824.8,440.4L824.8,445.9L816.9,446.4zM824.8,440.4L832.8,439.9L832.8,445.4L824.8,445.9zM832.8,439.9L840.8,439.4L840.8,444.9L832.8,445.4zM840.8,439.4L848.8,438.9L848.8,444.4L840.8,444.9zM848.8,438.9L856.8,438.4L856.8,443.9L848.8,444.4zM856.8,438.4L864.9,437.9L864.9,443.4L856.8,443.9zM889.2,430.9L897.3,430.4L897.3,435.9L889.2,436.4zM905.5,424.9L913.7,424.3L913.7,429.3L905.5,429.9z"/>
<path color="#2e2e5f" d="M801.0,447.4L808.9,446.9L808.9,450.4L801.0,450.9zM808.9,446.9L816.9,446.4L816.9,449.9L808.9,450.4zM816.9,446.4L824.8,445.9L824.8,449.4L816.9,449.9zM824.8,445.9L832.8,445.4L832.8,448.9L824.8,449.4zM832.8,445.4L840.8,444.9L840.8,448.4L832.8,448.9zM905.5,429.9L913.7,429.3L913.7,434.8L905.5,435.4z"/>
<path color="#141416" d="M808.9,430.9L816.9,430.4L816.9,435.4L808.9,435.9zM816.9,430.4L824.8,429.9L824.8,434.9L816.9,435.4zM824.8,429.9L832.8,429.4L832.8,434.4L824.8,434.9z"/>
<path color="#2c2b55" d="M864.9,437.9L872.9,437.4L872.9,442.9L864.9,443.4z"/>
<path color="#191923" d="M872.9,426.9L881.0,426.4L881.0,431.4L872.9,431.9z"/>
<path color="#2d2d5a" d="M872.9,437.4L881.0,436.9L881.0,442.4L872.9,442.9zM881.0,436.9L889.2,436.4L889.2,441.9L881.0,442.4zM897.3,430.4L905.5,429.9L905.5,435.4L897.3,435.9zM913.7,424.3L921.9,423.8L921.9,428.8L913.7,429.3z"/>
<path color="#1f1e30" d="M881.0,426.4L889.2,425.9L889.2,430.9L881.0,431.4z"/>
<path color="#29284b" d="M881.0,431.4L889.2,430.9L889.2,436.4L881.0,436.9z"/>
<path color="#2f3064" d="M921.9,423.8L930.1,423.3L930.1,428.3L921.9,428.8z"/>
<path color="#2c407f" d="M955.0,421.7L963.3,421.2L963.3,426.2L955.0,426.7zM980.1,425.2L988.5,424.6L988.5,430.1L980.1,430.7zM988.5,424.6L996.9,424.1L996.9,429.6L988.5,430.1zM996.9,424.1L1005.4,423.6L1005.4,429.1L996.9,429.6zM1005.4,423.6L1013.8,423.0L1013.8,428.5L1005.4,429.1zM1013.8,423.0L1022.3,422.5L1022.3,428.0L1013.8,428.5zM1022.3,422.5L1030.8,422.0L1030.8,427.5L1022.3,428.0zM1030.8,422.0L1039.4,421.4L1039.4,426.9L1030.8,427.5zM1039.4,421.4L1047.9,420.9L1047.9,426.4L1039.4,426.9zM1047.9,420.9L1056.5,420.3L1056.5,425.8L1047.9,426.4zM1073.8,414.3L1085.7,413.5L1085.7,418.5L1073.8,419.3z"/>
<path color="#284684" d="M963.3,421.2L971.7,420.7L971.7,425.7L963.3,426.2z"/>
<path color="#254c87" d="M971.7,420.7L980.1,420.2L980.1,425.2L971.7,425.7z"/>
<path color="#2d3d7c" d="M971.7,425.7L980.1,425.2L980.1,430.7L971.7,431.2zM1056.5,420.3L1065.1,419.8L1065.1,425.3L1056.5,425.8z"/>
<path color="#244e87" d="M980.1,420.2L988.5,419.6L988.5,424.6L980.1,425.2zM988.5,419.6L996.9,419.1L996.9,424.1L988.5,424.6zM996.9,419.1L1005.4,418.6L1005.4,423.6L996.9,424.1zM1005.4,418.6L1013.8,418.0L1013.8,423.0L1005.4,423.6zM1013.8,418.0L1022.3,417.5L1022.3,422.5L1013.8,423.0zM1022.3,417.5L1030.8,417.0L1030.8,422.0L1022.3,422.5zM1030.8,417.0L1039.4,416.4L1039.4,421.4L1030.8,422.0zM1039.4,416.4L1047.9,415.9L1047.9,420.9L1039.4,421.4zM1047.9,415.9L1056.5,415.3L1056.5,420.3L1047.9,420.9z"/>
<path color="#2e3a78" d="M996.9,429.6L1005.4,429.1L1005.4,434.6L996.9,435.1zM1005.4,429.1L1013.8,428.5L1013.8,434.0L1005.4,434.6zM1013.8,428.5L1022.3,428.0L1022.3,433.5L1013.8,434.0zM1013.8,434.0L1022.3,433.5L1022.3,437.0L1013.8,437.5zM1022.3,428.0L1030.8,427.5L1030.8,433.0L1022.3,433.5zM1030.8,427.5L1039.4,426.9L1039.4,432.4L1030.8,433.0zM1039.4,426.9L1047.9,426.4L1047.9,431.9L1039.4,432.4zM1065.1,419.8L1073.8,419.3L1073.8,424.8L1065.1,425.3zM1085.7,413.5L1102.0,412.5L1102.0,417.5L1085.7,418.5z"/>
<path color="#264985" d="M1056.5,415.3L1065.1,414.8L1065.1,419.8L1056.5,420.3z"/>
<path color="#2a4382" d="M1065.1,414.8L1073.8,414.3L1073.8,419.3L1065.1,419.8z"/></g>
<text x="896.6" y="293.7" text-anchor="middle" class="h">Discharge, 4.8 years</text>
<defs><linearGradient id="cb" x1="0" x2="1" y1="0" y2="0"><stop offset="0.0000" stop-color="#bde7db"/><stop offset="0.0208" stop-color="#afddd7"/><stop offset="0.0417" stop-color="#a1d3d4"/><stop offset="0.0625" stop-color="#90c8d1"/><stop offset="0.0833" stop-color="#81bfcf"/><stop offset="0.1042" stop-color="#72b6ce"/><stop offset="0.1250" stop-color="#60abcd"/><stop offset="0.1458" stop-color="#53a2cd"/><stop offset="0.1667" stop-color="#4798ce"/><stop offset="0.1875" stop-color="#3c8ccf"/><stop offset="0.2083" stop-color="#3781d0"/><stop offset="0.2292" stop-color="#3975cf"/><stop offset="0.2500" stop-color="#4167c7"/><stop offset="0.2708" stop-color="#475cbc"/><stop offset="0.2917" stop-color="#4952ad"/><stop offset="0.3125" stop-color="#484996"/><stop offset="0.3333" stop-color="#444282"/><stop offset="0.3542" stop-color="#3e3c70"/><stop offset="0.3750" stop-color="#37355c"/><stop offset="0.3958" stop-color="#312f4d"/><stop offset="0.4167" stop-color="#2b2a40"/><stop offset="0.4375" stop-color="#252532"/><stop offset="0.4583" stop-color="#222129"/><stop offset="0.4792" stop-color="#1f1f23"/><stop offset="0.5000" stop-color="#1f1e1e"/><stop offset="0.5208" stop-color="#251e1f"/><stop offset="0.5417" stop-color="#2c1e21"/><stop offset="0.5625" stop-color="#372025"/><stop offset="0.5833" stop-color="#412329"/><stop offset="0.6042" stop-color="#4d252f"/><stop offset="0.6250" stop-color="#5c2935"/><stop offset="0.6458" stop-color="#6a2b3a"/><stop offset="0.6667" stop-color="#782c3f"/><stop offset="0.6875" stop-color="#8a2e43"/><stop offset="0.7083" stop-color="#992e44"/><stop offset="0.7292" stop-color="#a83044"/><stop offset="0.7500" stop-color="#b93540"/><stop offset="0.7708" stop-color="#c53c3c"/><stop offset="0.7917" stop-color="#d04537"/><stop offset="0.8125" stop-color="#da5334"/><stop offset="0.8333" stop-color="#e25f33"/><stop offset="0.8542" stop-color="#e86d35"/><stop offset="0.8750" stop-color="#ed7e40"/><stop offset="0.8958" stop-color="#f18c4e"/><stop offset="0.9167" stop-color="#f39a5f"/><stop offset="0.9375" stop-color="#f7ab75"/><stop offset="0.9583" stop-color="#fab887"/><stop offset="0.9792" stop-color="#fcc69a"/><stop offset="1.0000" stop-color="#ffd4ac"/></linearGradient></defs><rect x="46.0" y="572.0" width="1108.0" height="12.0" fill="url(#cb)"/><rect x="46.0" y="571.6" width="1108.0" height="12.8" fill="none" stroke="#000" stroke-opacity=".6" stroke-width="1.2"/><path d="M46.0,566.4V571.6" stroke="#000" stroke-width="1"/><text x="46.0" y="560" text-anchor="middle" class="t">−20</text><path d="M210.6,566.4V571.6" stroke="#000" stroke-width="1"/><text x="210.6" y="560" text-anchor="middle" class="t">−10</text><path d="M375.3,566.4V571.6" stroke="#000" stroke-width="1"/><text x="375.3" y="560" text-anchor="middle" class="t">0</text><path d="M539.9,566.4V571.6" stroke="#000" stroke-width="1"/><text x="539.9" y="560" text-anchor="middle" class="t">10</text><path d="M704.5,566.4V571.6" stroke="#000" stroke-width="1"/><text x="704.5" y="560" text-anchor="middle" class="t">20</text><path d="M869.2,566.4V571.6" stroke="#000" stroke-width="1"/><text x="869.2" y="560" text-anchor="middle" class="t">30</text><path d="M1033.8,566.4V571.6" stroke="#000" stroke-width="1"/><text x="1033.8" y="560" text-anchor="middle" class="t">40</text><text x="600" y="538.3" text-anchor="middle" class="t">Temperature Change (°C)</text>
</svg></body></html>
